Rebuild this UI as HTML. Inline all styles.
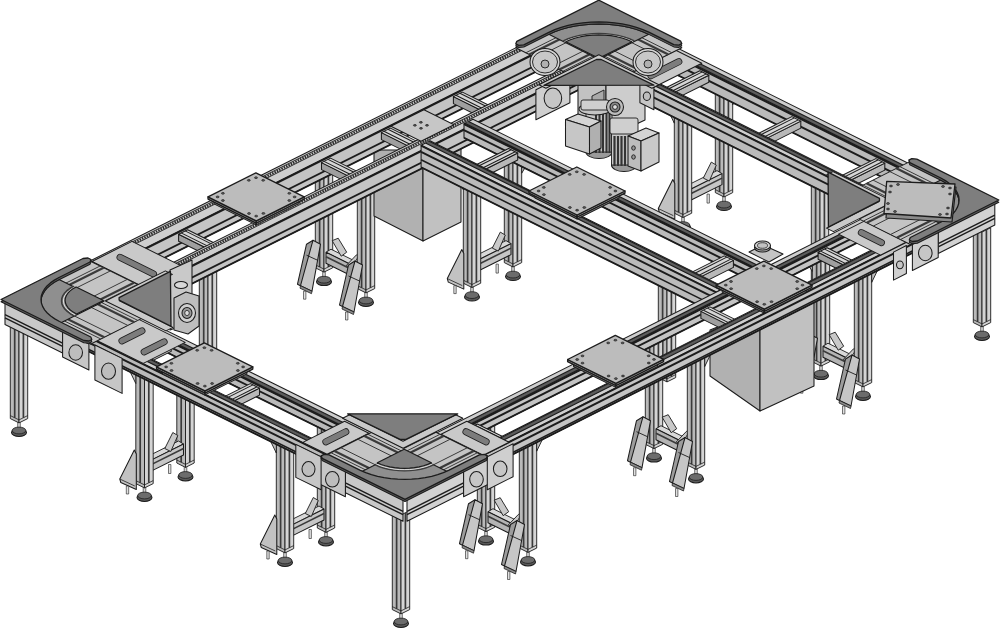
<!DOCTYPE html>
<html lang="en"><head><meta charset="utf-8"><title>Conveyor system</title>
<style>html,body{margin:0;padding:0;background:#fff;font-family:"Liberation Sans",sans-serif}svg{display:block}</style></head>
<body>
<svg width="1000" height="633" viewBox="0 0 1000 633" shape-rendering="geometricPrecision" stroke-linejoin="round">
<polygon points="199.3,256.7 208.0,261.1 208.0,375.9 199.3,371.6" fill="#b9b9b9" stroke="#1c1c1c" stroke-width="0.91" />
<polygon points="208.0,261.1 216.7,256.7 216.7,371.6 208.0,375.9" fill="#d4d4d4" stroke="#1c1c1c" stroke-width="0.91" />
<line x1="203.7" y1="258.9" x2="203.7" y2="370.7" stroke="#3a3a3a" stroke-width="1.69"/>
<line x1="212.3" y1="258.9" x2="212.3" y2="370.7" stroke="#3a3a3a" stroke-width="1.69"/>
<line x1="199.3" y1="368.6" x2="208.0" y2="372.9" stroke="#1c1c1c" stroke-width="0.78"/>
<line x1="216.7" y1="368.6" x2="208.0" y2="372.9" stroke="#1c1c1c" stroke-width="0.78"/>
<rect x="322.7" y="270.2" width="2.6" height="8" fill="#d8d8d8" stroke="#1c1c1c" stroke-width="0.6"/>
<ellipse cx="324.0" cy="281.7" rx="7.5" ry="3.9" fill="#5a5a5a" stroke="#1c1c1c" stroke-width="1.04"/>
<ellipse cx="324.0" cy="279.7" rx="6.8" ry="3.4" fill="#6c6c6c" stroke="#1c1c1c" stroke-width="0.78"/>
<polygon points="315.3,154.5 324.0,158.8 324.0,272.1 315.3,267.8" fill="#b9b9b9" stroke="#1c1c1c" stroke-width="0.91" />
<polygon points="324.0,158.8 332.7,154.5 332.7,267.8 324.0,272.1" fill="#d4d4d4" stroke="#1c1c1c" stroke-width="0.91" />
<line x1="319.6" y1="156.7" x2="319.6" y2="267.0" stroke="#3a3a3a" stroke-width="1.69"/>
<line x1="328.4" y1="156.7" x2="328.4" y2="267.0" stroke="#3a3a3a" stroke-width="1.69"/>
<line x1="315.3" y1="264.8" x2="324.0" y2="269.1" stroke="#1c1c1c" stroke-width="0.78"/>
<line x1="332.7" y1="264.8" x2="324.0" y2="269.1" stroke="#1c1c1c" stroke-width="0.78"/>
<polygon points="331.0,249.2 363.3,265.2 358.3,268.2 326.0,252.2" fill="#d9d9d9" stroke="#1c1c1c" stroke-width="0.91" />
<polygon points="326.0,252.2 358.3,268.2 358.3,279.2 326.0,263.2" fill="#b4b4b4" stroke="#1c1c1c" stroke-width="1.04" />
<line x1="326.0" y1="256.7" x2="358.3" y2="272.7" stroke="#3a3a3a" stroke-width="1.56"/>
<polygon points="332.2,240.7 338.2,238.2 346.7,252.2 341.2,256.2" fill="#c9c9c9" stroke="#1c1c1c" stroke-width="0.91" />
<polygon points="356.3,255.0 361.3,252.0 351.3,268.0 346.3,265.5" fill="#c9c9c9" stroke="#1c1c1c" stroke-width="0.91" />
<polygon points="313.0,240.2 306.5,244.2 297.5,284.2 309.0,290.2" fill="#9c9c9c" stroke="#1c1c1c" stroke-width="1.04" />
<polygon points="313.0,240.2 320.5,244.2 312.0,291.2 300.5,285.7" fill="#c6c6c6" stroke="#1c1c1c" stroke-width="1.04" />
<line x1="317.5" y1="260.2" x2="306.5" y2="255.2" stroke="#1c1c1c" stroke-width="0.91"/>
<polygon points="300.5,285.7 312.0,291.2 311.5,293.7 300.0,288.2" fill="#8a8a8a" stroke="#1c1c1c" stroke-width="0.78" />
<rect x="303.5" y="291.2" width="2.4" height="8" fill="#e0e0e0" stroke="#1c1c1c" stroke-width="0.6"/>
<rect x="364.7" y="291.0" width="2.6" height="8" fill="#d8d8d8" stroke="#1c1c1c" stroke-width="0.6"/>
<ellipse cx="366.0" cy="302.5" rx="7.5" ry="3.9" fill="#5a5a5a" stroke="#1c1c1c" stroke-width="1.04"/>
<ellipse cx="366.0" cy="300.5" rx="6.8" ry="3.4" fill="#6c6c6c" stroke="#1c1c1c" stroke-width="0.78"/>
<polygon points="357.3,175.6 366.0,179.9 366.0,292.9 357.3,288.6" fill="#b9b9b9" stroke="#1c1c1c" stroke-width="0.91" />
<polygon points="366.0,179.9 374.7,175.6 374.7,288.6 366.0,292.9" fill="#d4d4d4" stroke="#1c1c1c" stroke-width="0.91" />
<line x1="361.6" y1="177.7" x2="361.6" y2="287.7" stroke="#3a3a3a" stroke-width="1.69"/>
<line x1="370.4" y1="177.7" x2="370.4" y2="287.7" stroke="#3a3a3a" stroke-width="1.69"/>
<line x1="357.3" y1="285.6" x2="366.0" y2="289.9" stroke="#1c1c1c" stroke-width="0.78"/>
<line x1="374.7" y1="285.6" x2="366.0" y2="289.9" stroke="#1c1c1c" stroke-width="0.78"/>
<polygon points="374.7,183.9 382.7,180.4 374.7,196.9" fill="#c0c0c0" stroke="#1c1c1c" stroke-width="0.91" />
<polygon points="315.3,164.8 308.3,168.3 315.3,179.8" fill="#c0c0c0" stroke="#1c1c1c" stroke-width="0.91" />
<polygon points="355.0,261.0 348.5,265.0 339.5,305.0 351.0,311.0" fill="#9c9c9c" stroke="#1c1c1c" stroke-width="1.04" />
<polygon points="355.0,261.0 362.5,265.0 354.0,312.0 342.5,306.5" fill="#c6c6c6" stroke="#1c1c1c" stroke-width="1.04" />
<line x1="359.5" y1="281.0" x2="348.5" y2="276.0" stroke="#1c1c1c" stroke-width="0.91"/>
<polygon points="342.5,306.5 354.0,312.0 353.5,314.5 342.0,309.0" fill="#8a8a8a" stroke="#1c1c1c" stroke-width="0.78" />
<rect x="345.5" y="312.0" width="2.4" height="8" fill="#e0e0e0" stroke="#1c1c1c" stroke-width="0.6"/>
<polygon points="374.0,150.0 423.0,150.0 423.0,241.0 374.0,216.0" fill="#b1b1b1" stroke="#1c1c1c" stroke-width="1.04" />
<polygon points="423.0,150.0 461.0,140.0 461.0,222.0 423.0,241.0" fill="#c1c1c1" stroke="#1c1c1c" stroke-width="1.04" />
<polygon points="81.2,280.5 561.8,39.8 561.8,58.8 81.2,299.5" fill="#c4c4c4" stroke="#1c1c1c" stroke-width="1.04" />
<polygon points="66.0,273.0 546.8,32.3 561.8,39.8 81.2,280.5" fill="#cecece" stroke="#1c1c1c" stroke-width="1.04" />
<polygon points="66.0,273.0 81.2,280.5 81.2,299.5 66.0,292.0" fill="#a8a8a8" stroke="#1c1c1c" stroke-width="1.04" />
<line x1="69.9" y1="274.9" x2="550.6" y2="34.2" stroke="#2a2a2a" stroke-width="2.3" stroke-dasharray="1.5 1.1"/>
<line x1="68.1" y1="274.0" x2="548.9" y2="33.3" stroke="#1c1c1c" stroke-width="0.91"/>
<line x1="71.7" y1="275.8" x2="552.4" y2="35.1" stroke="#1c1c1c" stroke-width="0.91"/>
<line x1="81.2" y1="280.8" x2="561.8" y2="40.1" stroke="#1c1c1c" stroke-width="2.21"/>
<line x1="81.2" y1="293.0" x2="561.8" y2="52.3" stroke="#1c1c1c" stroke-width="1.82"/>
<line x1="81.2" y1="299.5" x2="561.8" y2="58.8" stroke="#1c1c1c" stroke-width="1.82"/>
<polygon points="178.6,234.2 207.8,248.7 207.8,255.7 178.6,241.2" fill="#9f9f9f" stroke="#1c1c1c" stroke-width="1.04" />
<polygon points="207.8,248.7 216.8,244.2 216.8,251.2 207.8,255.7" fill="#b8b8b8" stroke="#1c1c1c" stroke-width="1.04" />
<polygon points="178.6,234.2 187.6,229.7 216.8,244.2 207.8,248.7" fill="#d6d6d6" stroke="#1c1c1c" stroke-width="1.04" />
<line x1="181.1" y1="232.9" x2="210.3" y2="247.4" stroke="#1c1c1c" stroke-width="1.04"/>
<line x1="185.1" y1="230.9" x2="214.3" y2="245.4" stroke="#1c1c1c" stroke-width="1.04"/>
<polygon points="321.5,162.6 350.6,177.1 350.6,184.1 321.5,169.6" fill="#9f9f9f" stroke="#1c1c1c" stroke-width="1.04" />
<polygon points="350.6,177.1 359.6,172.6 359.6,179.6 350.6,184.1" fill="#b8b8b8" stroke="#1c1c1c" stroke-width="1.04" />
<polygon points="321.5,162.6 330.5,158.1 359.6,172.6 350.6,177.1" fill="#d6d6d6" stroke="#1c1c1c" stroke-width="1.04" />
<line x1="324.0" y1="161.4" x2="353.1" y2="175.8" stroke="#1c1c1c" stroke-width="1.04"/>
<line x1="328.0" y1="159.4" x2="357.1" y2="173.8" stroke="#1c1c1c" stroke-width="1.04"/>
<polygon points="381.4,132.6 410.5,147.1 410.5,154.1 381.4,139.6" fill="#9f9f9f" stroke="#1c1c1c" stroke-width="1.04" />
<polygon points="410.5,147.1 419.5,142.6 419.5,149.6 410.5,154.1" fill="#b8b8b8" stroke="#1c1c1c" stroke-width="1.04" />
<polygon points="381.4,132.6 390.4,128.1 419.5,142.6 410.5,147.1" fill="#d6d6d6" stroke="#1c1c1c" stroke-width="1.04" />
<line x1="383.9" y1="131.3" x2="413.0" y2="145.8" stroke="#1c1c1c" stroke-width="1.04"/>
<line x1="387.9" y1="129.3" x2="417.0" y2="143.8" stroke="#1c1c1c" stroke-width="1.04"/>
<polygon points="453.4,96.6 482.5,111.0 482.5,118.0 453.4,103.6" fill="#9f9f9f" stroke="#1c1c1c" stroke-width="1.04" />
<polygon points="482.5,111.0 491.4,106.5 491.4,113.5 482.5,118.0" fill="#b8b8b8" stroke="#1c1c1c" stroke-width="1.04" />
<polygon points="453.4,96.6 462.4,92.1 491.4,106.5 482.5,111.0" fill="#d6d6d6" stroke="#1c1c1c" stroke-width="1.04" />
<line x1="455.9" y1="95.3" x2="485.0" y2="109.8" stroke="#1c1c1c" stroke-width="1.04"/>
<line x1="459.9" y1="93.3" x2="488.9" y2="107.8" stroke="#1c1c1c" stroke-width="1.04"/>
<polygon points="122.0,300.7 602.3,60.0 602.3,78.0 122.0,318.7" fill="#c4c4c4" stroke="#1c1c1c" stroke-width="1.04" />
<polygon points="109.4,294.5 589.8,53.7 602.3,60.0 122.0,300.7" fill="#cecece" stroke="#1c1c1c" stroke-width="1.04" />
<polygon points="109.4,294.5 122.0,300.7 122.0,318.7 109.4,312.5" fill="#a8a8a8" stroke="#1c1c1c" stroke-width="1.04" />
<line x1="113.2" y1="296.3" x2="593.6" y2="55.6" stroke="#2a2a2a" stroke-width="2.3" stroke-dasharray="1.5 1.1"/>
<line x1="111.5" y1="295.5" x2="591.9" y2="54.8" stroke="#1c1c1c" stroke-width="0.91"/>
<line x1="115.1" y1="297.2" x2="595.4" y2="56.5" stroke="#1c1c1c" stroke-width="0.91"/>
<line x1="122.0" y1="301.0" x2="602.3" y2="60.3" stroke="#1c1c1c" stroke-width="2.21"/>
<line x1="122.0" y1="312.6" x2="602.3" y2="71.9" stroke="#1c1c1c" stroke-width="1.82"/>
<line x1="122.0" y1="318.7" x2="602.3" y2="78.0" stroke="#1c1c1c" stroke-width="1.82"/>
<polygon points="390.9,126.3 423.9,109.8 454.0,124.8 421.0,141.3" fill="#c6c6c6" stroke="#1c1c1c" stroke-width="1.04" />
<ellipse cx="414.9" cy="125.3" rx="1.5" ry="0.9" fill="#555" stroke="#1c1c1c" stroke-width="0.65"/>
<ellipse cx="420.9" cy="122.3" rx="1.5" ry="0.9" fill="#555" stroke="#1c1c1c" stroke-width="0.65"/>
<ellipse cx="421.0" cy="128.3" rx="1.5" ry="0.9" fill="#555" stroke="#1c1c1c" stroke-width="0.65"/>
<ellipse cx="427.0" cy="125.3" rx="1.5" ry="0.9" fill="#555" stroke="#1c1c1c" stroke-width="0.65"/>
<polygon points="92.0,261.5 132.0,241.4 187.4,268.9 147.5,288.9" fill="#c9c9c9" stroke="#1c1c1c" stroke-width="1.04" />
<line x1="120.1" y1="257.4" x2="153.4" y2="273.9" stroke="#1c1c1c" stroke-width="7.1" stroke-linecap="round"/>
<line x1="120.1" y1="257.4" x2="153.4" y2="273.9" stroke="#7c7c7c" stroke-width="5.5" stroke-linecap="round"/>
<polygon points="170.0,270.0 192.0,260.0 192.0,322.0 170.0,330.0" fill="#c9c9c9" stroke="#1c1c1c" stroke-width="1.04" />
<polygon points="174.0,298.0 186.0,292.0 199.0,296.0 199.0,326.0 188.0,334.0 174.0,330.0" fill="#bdbdbd" stroke="#1c1c1c" stroke-width="1.04" />
<ellipse cx="187.0" cy="313.0" rx="8.5" ry="9.5" fill="#cfcfcf" stroke="#1c1c1c" stroke-width="1.04"/>
<ellipse cx="187.0" cy="313.0" rx="5.0" ry="5.5" fill="#9a9a9a" stroke="#1c1c1c" stroke-width="1.04"/>
<ellipse cx="187.0" cy="313.0" rx="2.3" ry="2.6" fill="#dddddd" stroke="#1c1c1c" stroke-width="0.78"/>
<ellipse cx="181.0" cy="285.0" rx="6.5" ry="3.6" fill="#d8d8d8" stroke="#1c1c1c" stroke-width="1.04"/>
<rect x="722.7" y="195.1" width="2.6" height="8" fill="#d8d8d8" stroke="#1c1c1c" stroke-width="0.6"/>
<ellipse cx="724.0" cy="206.6" rx="7.5" ry="3.9" fill="#5a5a5a" stroke="#1c1c1c" stroke-width="1.04"/>
<ellipse cx="724.0" cy="204.6" rx="6.8" ry="3.4" fill="#6c6c6c" stroke="#1c1c1c" stroke-width="0.78"/>
<polygon points="715.3,79.4 724.0,83.8 724.0,197.0 715.3,192.6" fill="#b9b9b9" stroke="#1c1c1c" stroke-width="0.91" />
<polygon points="724.0,83.8 732.7,79.4 732.7,192.6 724.0,197.0" fill="#d4d4d4" stroke="#1c1c1c" stroke-width="0.91" />
<line x1="719.6" y1="81.6" x2="719.6" y2="191.8" stroke="#3a3a3a" stroke-width="1.69"/>
<line x1="728.4" y1="81.6" x2="728.4" y2="191.8" stroke="#3a3a3a" stroke-width="1.69"/>
<line x1="715.3" y1="189.6" x2="724.0" y2="194.0" stroke="#1c1c1c" stroke-width="0.78"/>
<line x1="732.7" y1="189.6" x2="724.0" y2="194.0" stroke="#1c1c1c" stroke-width="0.78"/>
<rect x="707.0" y="194.1" width="2.4" height="9" fill="#e0e0e0" stroke="#1c1c1c" stroke-width="0.6"/>
<polygon points="685.7,186.2 717.0,170.6 722.0,173.6 690.7,189.2" fill="#d9d9d9" stroke="#1c1c1c" stroke-width="0.91" />
<polygon points="690.7,189.2 722.0,173.6 722.0,184.6 690.7,200.2" fill="#c6c6c6" stroke="#1c1c1c" stroke-width="1.04" />
<line x1="690.7" y1="193.7" x2="722.0" y2="178.1" stroke="#3a3a3a" stroke-width="1.56"/>
<polygon points="716.3,165.1 711.3,162.1 703.3,178.1 709.3,181.1" fill="#c9c9c9" stroke="#1c1c1c" stroke-width="0.91" />
<rect x="681.7" y="215.6" width="2.6" height="8" fill="#d8d8d8" stroke="#1c1c1c" stroke-width="0.6"/>
<ellipse cx="683.0" cy="227.1" rx="7.5" ry="3.9" fill="#5a5a5a" stroke="#1c1c1c" stroke-width="1.04"/>
<ellipse cx="683.0" cy="225.1" rx="6.8" ry="3.4" fill="#6c6c6c" stroke="#1c1c1c" stroke-width="0.78"/>
<polygon points="674.3,101.9 683.0,106.2 683.0,217.5 674.3,213.2" fill="#b9b9b9" stroke="#1c1c1c" stroke-width="0.91" />
<polygon points="683.0,106.2 691.7,101.9 691.7,213.2 683.0,217.5" fill="#d4d4d4" stroke="#1c1c1c" stroke-width="0.91" />
<line x1="678.6" y1="104.1" x2="678.6" y2="212.3" stroke="#3a3a3a" stroke-width="1.69"/>
<line x1="687.4" y1="104.1" x2="687.4" y2="212.3" stroke="#3a3a3a" stroke-width="1.69"/>
<line x1="674.3" y1="210.2" x2="683.0" y2="214.5" stroke="#1c1c1c" stroke-width="0.78"/>
<line x1="691.7" y1="210.2" x2="683.0" y2="214.5" stroke="#1c1c1c" stroke-width="0.78"/>
<polygon points="674.3,110.2 666.3,106.7 674.3,123.2" fill="#c0c0c0" stroke="#1c1c1c" stroke-width="0.91" />
<polygon points="732.7,89.8 739.7,93.3 732.7,104.8" fill="#c0c0c0" stroke="#1c1c1c" stroke-width="0.91" />
<polygon points="672.8,179.6 658.3,208.6 659.3,212.1 674.8,219.1 674.8,183.6" fill="#c2c2c2" stroke="#1c1c1c" stroke-width="1.04" />
<line x1="658.3" y1="208.6" x2="673.3" y2="215.6" stroke="#1c1c1c" stroke-width="0.78"/>
<rect x="664.8" y="215.6" width="2.4" height="8" fill="#e0e0e0" stroke="#1c1c1c" stroke-width="0.6"/>
<polygon points="811.3,172.2 820.0,176.6 820.0,293.9 811.3,289.6" fill="#b9b9b9" stroke="#1c1c1c" stroke-width="0.91" />
<polygon points="820.0,176.6 828.7,172.2 828.7,289.6 820.0,293.9" fill="#d4d4d4" stroke="#1c1c1c" stroke-width="0.91" />
<line x1="815.6" y1="174.4" x2="815.6" y2="288.7" stroke="#3a3a3a" stroke-width="1.69"/>
<line x1="824.4" y1="174.4" x2="824.4" y2="288.7" stroke="#3a3a3a" stroke-width="1.69"/>
<line x1="811.3" y1="286.6" x2="820.0" y2="290.9" stroke="#1c1c1c" stroke-width="0.78"/>
<line x1="828.7" y1="286.6" x2="820.0" y2="290.9" stroke="#1c1c1c" stroke-width="0.78"/>
<polygon points="639.3,38.0 925.4,180.8 925.4,198.8 639.3,56.0" fill="#bababa" stroke="#1c1c1c" stroke-width="1.04" />
<polygon points="639.3,38.0 648.3,33.5 934.3,176.3 925.4,180.8" fill="#cecece" stroke="#1c1c1c" stroke-width="1.04" />
<polygon points="925.4,180.8 934.3,176.3 934.3,194.3 925.4,198.8" fill="#c4c4c4" stroke="#1c1c1c" stroke-width="1.04" />
<polygon points="640.2,37.5 926.2,180.3 929.9,178.5 643.9,35.7" fill="#5c5c5c" stroke="none" stroke-width="1.04" />
<line x1="640.2" y1="37.5" x2="926.2" y2="180.3" stroke="#1c1c1c" stroke-width="1.17"/>
<line x1="643.9" y1="35.7" x2="929.9" y2="178.5" stroke="#1c1c1c" stroke-width="1.17"/>
<line x1="639.3" y1="38.3" x2="925.4" y2="181.1" stroke="#1c1c1c" stroke-width="1.95"/>
<line x1="639.3" y1="46.1" x2="925.4" y2="188.9" stroke="#1c1c1c" stroke-width="1.95"/>
<line x1="639.3" y1="56.0" x2="925.4" y2="198.8" stroke="#1c1c1c" stroke-width="1.82"/>
<polygon points="663.4,89.0 672.4,93.4 672.4,100.4 663.4,96.0" fill="#9f9f9f" stroke="#1c1c1c" stroke-width="1.04" />
<polygon points="672.4,93.4 708.8,75.2 708.8,82.2 672.4,100.4" fill="#b8b8b8" stroke="#1c1c1c" stroke-width="1.04" />
<polygon points="663.4,89.0 699.8,70.7 708.8,75.2 672.4,93.4" fill="#d6d6d6" stroke="#1c1c1c" stroke-width="1.04" />
<line x1="665.9" y1="90.2" x2="702.3" y2="71.9" stroke="#1c1c1c" stroke-width="1.04"/>
<line x1="669.9" y1="92.2" x2="706.3" y2="73.9" stroke="#1c1c1c" stroke-width="1.04"/>
<polygon points="755.5,134.9 764.5,139.4 764.5,146.4 755.5,141.9" fill="#9f9f9f" stroke="#1c1c1c" stroke-width="1.04" />
<polygon points="764.5,139.4 800.8,121.1 800.8,128.1 764.5,146.4" fill="#b8b8b8" stroke="#1c1c1c" stroke-width="1.04" />
<polygon points="755.5,134.9 791.8,116.6 800.8,121.1 764.5,139.4" fill="#d6d6d6" stroke="#1c1c1c" stroke-width="1.04" />
<line x1="758.0" y1="136.1" x2="794.3" y2="117.9" stroke="#1c1c1c" stroke-width="1.04"/>
<line x1="762.0" y1="138.1" x2="798.3" y2="119.9" stroke="#1c1c1c" stroke-width="1.04"/>
<polygon points="839.5,176.8 848.5,181.3 848.5,188.3 839.5,183.8" fill="#9f9f9f" stroke="#1c1c1c" stroke-width="1.04" />
<polygon points="848.5,181.3 884.8,163.1 884.8,170.1 848.5,188.3" fill="#b8b8b8" stroke="#1c1c1c" stroke-width="1.04" />
<polygon points="839.5,176.8 875.8,158.6 884.8,163.1 848.5,181.3" fill="#d6d6d6" stroke="#1c1c1c" stroke-width="1.04" />
<line x1="842.0" y1="178.1" x2="878.3" y2="159.8" stroke="#1c1c1c" stroke-width="1.04"/>
<line x1="846.0" y1="180.1" x2="882.3" y2="161.8" stroke="#1c1c1c" stroke-width="1.04"/>
<polygon points="594.8,60.2 881.1,203.1 881.1,220.6 594.8,77.7" fill="#bababa" stroke="#1c1c1c" stroke-width="1.04" />
<polygon points="594.8,60.2 603.8,55.7 890.1,198.6 881.1,203.1" fill="#cecece" stroke="#1c1c1c" stroke-width="1.04" />
<polygon points="881.1,203.1 890.1,198.6 890.1,216.1 881.1,220.6" fill="#c4c4c4" stroke="#1c1c1c" stroke-width="1.04" />
<polygon points="599.2,58.0 885.5,200.9 889.2,199.0 602.9,56.2" fill="#5c5c5c" stroke="none" stroke-width="1.04" />
<line x1="599.2" y1="58.0" x2="885.5" y2="200.9" stroke="#1c1c1c" stroke-width="1.17"/>
<line x1="602.9" y1="56.2" x2="889.2" y2="199.0" stroke="#1c1c1c" stroke-width="1.17"/>
<line x1="594.8" y1="60.5" x2="881.1" y2="203.4" stroke="#1c1c1c" stroke-width="1.95"/>
<line x1="594.8" y1="68.1" x2="881.1" y2="210.9" stroke="#1c1c1c" stroke-width="1.95"/>
<line x1="594.8" y1="77.7" x2="881.1" y2="220.6" stroke="#1c1c1c" stroke-width="1.82"/>
<polygon points="625.9,75.2 675.8,50.2 701.8,63.2 651.9,88.2" fill="#c9c9c9" stroke="#1c1c1c" stroke-width="1.04" />
<line x1="650.9" y1="75.7" x2="678.8" y2="61.7" stroke="#1c1c1c" stroke-width="7.1" stroke-linecap="round"/>
<line x1="650.9" y1="75.7" x2="678.8" y2="61.7" stroke="#7c7c7c" stroke-width="5.5" stroke-linecap="round"/>
<polygon points="578.0,84.0 606.0,84.0 606.0,120.0 578.0,116.0" fill="#c2c2c2" stroke="#1c1c1c" stroke-width="1.04" />
<polygon points="606.0,84.0 645.0,84.0 645.0,120.0 628.0,128.0 606.0,122.0" fill="#cdcdcd" stroke="#1c1c1c" stroke-width="1.04" />
<polygon points="592.0,96.0 604.0,90.0 604.0,118.0 592.0,114.0" fill="#a9a9a9" stroke="#1c1c1c" stroke-width="0.91" />
<ellipse cx="599.0" cy="152.0" rx="13.0" ry="6.5" fill="#9a9a9a" stroke="#1c1c1c" stroke-width="1.04"/>
<rect x="586.0" y="108.0" width="26.0" height="44.0" rx="0" fill="#c9c9c9" stroke="#1c1c1c" stroke-width="0.9"/>
<line x1="596.0" y1="112.0" x2="596.0" y2="153.0" stroke="#333" stroke-width="2.08"/>
<line x1="599.5" y1="112.0" x2="599.5" y2="153.0" stroke="#333" stroke-width="2.08"/>
<line x1="603.0" y1="112.0" x2="603.0" y2="153.0" stroke="#333" stroke-width="2.08"/>
<line x1="606.5" y1="112.0" x2="606.5" y2="153.0" stroke="#333" stroke-width="2.08"/>
<line x1="609.5" y1="112.0" x2="609.5" y2="153.0" stroke="#333" stroke-width="2.08"/>
<ellipse cx="595.0" cy="109.0" rx="16.0" ry="6.0" fill="#c4c4c4" stroke="#1c1c1c" stroke-width="1.04"/>
<rect x="581.0" y="100.0" width="28.0" height="10.0" rx="2" fill="#cfcfcf" stroke="#1c1c1c" stroke-width="0.9"/>
<polygon points="565.5,119.5 578.0,114.0 601.0,121.0 589.5,127.0" fill="#d4d4d4" stroke="#1c1c1c" stroke-width="1.04" />
<polygon points="565.5,119.5 589.5,127.0 589.5,154.0 565.5,146.0" fill="#c6c6c6" stroke="#1c1c1c" stroke-width="1.04" />
<polygon points="589.5,127.0 601.0,121.0 601.0,148.0 589.5,154.0" fill="#b0b0b0" stroke="#1c1c1c" stroke-width="1.04" />
<ellipse cx="624.0" cy="165.0" rx="12.5" ry="6.5" fill="#9a9a9a" stroke="#1c1c1c" stroke-width="1.04"/>
<rect x="611.5" y="126.0" width="25.0" height="39.0" rx="0" fill="#c9c9c9" stroke="#1c1c1c" stroke-width="0.9"/>
<line x1="614.5" y1="136.0" x2="614.5" y2="166.0" stroke="#333" stroke-width="2.21"/>
<line x1="618.0" y1="136.0" x2="618.0" y2="166.0" stroke="#333" stroke-width="2.21"/>
<line x1="621.5" y1="136.0" x2="621.5" y2="166.0" stroke="#333" stroke-width="2.21"/>
<line x1="625.0" y1="136.0" x2="625.0" y2="166.0" stroke="#333" stroke-width="2.21"/>
<rect x="610.0" y="118.0" width="28.0" height="16.0" rx="2" fill="#cfcfcf" stroke="#1c1c1c" stroke-width="0.9"/>
<polygon points="628.0,136.0 646.0,128.0 659.0,133.0 641.0,141.0" fill="#d4d4d4" stroke="#1c1c1c" stroke-width="1.04" />
<polygon points="628.0,136.0 641.0,141.0 641.0,171.0 628.0,166.0" fill="#bdbdbd" stroke="#1c1c1c" stroke-width="1.04" />
<polygon points="641.0,141.0 659.0,133.0 659.0,162.0 641.0,171.0" fill="#c9c9c9" stroke="#1c1c1c" stroke-width="1.04" />
<ellipse cx="633.5" cy="148.0" rx="1.8" ry="2.2" fill="#999" stroke="#1c1c1c" stroke-width="0.91"/>
<ellipse cx="633.5" cy="157.0" rx="1.8" ry="2.2" fill="#999" stroke="#1c1c1c" stroke-width="0.91"/>
<ellipse cx="615.0" cy="107.0" rx="8.5" ry="8.5" fill="#bdbdbd" stroke="#1c1c1c" stroke-width="1.04"/>
<ellipse cx="615.0" cy="107.0" rx="5.0" ry="5.0" fill="#8a8a8a" stroke="#1c1c1c" stroke-width="1.04"/>
<ellipse cx="615.0" cy="107.0" rx="2.4" ry="2.4" fill="#e0e0e0" stroke="#1c1c1c" stroke-width="0.91"/>
<rect x="511.7" y="265.1" width="2.6" height="8" fill="#d8d8d8" stroke="#1c1c1c" stroke-width="0.6"/>
<ellipse cx="513.0" cy="276.6" rx="7.5" ry="3.9" fill="#5a5a5a" stroke="#1c1c1c" stroke-width="1.04"/>
<ellipse cx="513.0" cy="274.6" rx="6.8" ry="3.4" fill="#6c6c6c" stroke="#1c1c1c" stroke-width="0.78"/>
<polygon points="504.3,147.8 513.0,152.2 513.0,267.0 504.3,262.6" fill="#b9b9b9" stroke="#1c1c1c" stroke-width="0.91" />
<polygon points="513.0,152.2 521.7,147.8 521.7,262.6 513.0,267.0" fill="#d4d4d4" stroke="#1c1c1c" stroke-width="0.91" />
<line x1="508.6" y1="150.0" x2="508.6" y2="261.8" stroke="#3a3a3a" stroke-width="1.69"/>
<line x1="517.4" y1="150.0" x2="517.4" y2="261.8" stroke="#3a3a3a" stroke-width="1.69"/>
<line x1="504.3" y1="259.6" x2="513.0" y2="264.0" stroke="#1c1c1c" stroke-width="0.78"/>
<line x1="521.7" y1="259.6" x2="513.0" y2="264.0" stroke="#1c1c1c" stroke-width="0.78"/>
<rect x="496.0" y="264.1" width="2.4" height="9" fill="#e0e0e0" stroke="#1c1c1c" stroke-width="0.6"/>
<polygon points="474.7,256.2 506.0,240.6 511.0,243.6 479.7,259.2" fill="#d9d9d9" stroke="#1c1c1c" stroke-width="0.91" />
<polygon points="479.7,259.2 511.0,243.6 511.0,254.6 479.7,270.2" fill="#c6c6c6" stroke="#1c1c1c" stroke-width="1.04" />
<line x1="479.7" y1="263.7" x2="511.0" y2="248.1" stroke="#3a3a3a" stroke-width="1.56"/>
<polygon points="505.3,235.1 500.3,232.1 492.3,248.1 498.3,251.1" fill="#c9c9c9" stroke="#1c1c1c" stroke-width="0.91" />
<rect x="470.7" y="285.6" width="2.6" height="8" fill="#d8d8d8" stroke="#1c1c1c" stroke-width="0.6"/>
<ellipse cx="472.0" cy="297.1" rx="7.5" ry="3.9" fill="#5a5a5a" stroke="#1c1c1c" stroke-width="1.04"/>
<ellipse cx="472.0" cy="295.1" rx="6.8" ry="3.4" fill="#6c6c6c" stroke="#1c1c1c" stroke-width="0.78"/>
<polygon points="463.3,168.3 472.0,172.7 472.0,287.5 463.3,283.2" fill="#b9b9b9" stroke="#1c1c1c" stroke-width="0.91" />
<polygon points="472.0,172.7 480.7,168.3 480.7,283.2 472.0,287.5" fill="#d4d4d4" stroke="#1c1c1c" stroke-width="0.91" />
<line x1="467.6" y1="170.5" x2="467.6" y2="282.3" stroke="#3a3a3a" stroke-width="1.69"/>
<line x1="476.4" y1="170.5" x2="476.4" y2="282.3" stroke="#3a3a3a" stroke-width="1.69"/>
<line x1="463.3" y1="280.2" x2="472.0" y2="284.5" stroke="#1c1c1c" stroke-width="0.78"/>
<line x1="480.7" y1="280.2" x2="472.0" y2="284.5" stroke="#1c1c1c" stroke-width="0.78"/>
<polygon points="463.3,176.7 455.3,173.2 463.3,189.7" fill="#c0c0c0" stroke="#1c1c1c" stroke-width="0.91" />
<polygon points="521.7,158.2 528.7,161.7 521.7,173.2" fill="#c0c0c0" stroke="#1c1c1c" stroke-width="0.91" />
<polygon points="461.8,249.6 447.3,278.6 448.3,282.1 463.8,289.1 463.8,253.6" fill="#c2c2c2" stroke="#1c1c1c" stroke-width="1.04" />
<line x1="447.3" y1="278.6" x2="462.3" y2="285.6" stroke="#1c1c1c" stroke-width="0.78"/>
<rect x="453.8" y="285.6" width="2.4" height="8" fill="#e0e0e0" stroke="#1c1c1c" stroke-width="0.6"/>
<polygon points="658.3,267.3 667.0,271.7 667.0,381.9 658.3,377.6" fill="#b9b9b9" stroke="#1c1c1c" stroke-width="0.91" />
<polygon points="667.0,271.7 675.7,267.3 675.7,377.6 667.0,381.9" fill="#d4d4d4" stroke="#1c1c1c" stroke-width="0.91" />
<line x1="662.6" y1="269.5" x2="662.6" y2="376.7" stroke="#3a3a3a" stroke-width="1.69"/>
<line x1="671.4" y1="269.5" x2="671.4" y2="376.7" stroke="#3a3a3a" stroke-width="1.69"/>
<line x1="658.3" y1="374.6" x2="667.0" y2="378.9" stroke="#1c1c1c" stroke-width="0.78"/>
<line x1="675.7" y1="374.6" x2="667.0" y2="378.9" stroke="#1c1c1c" stroke-width="0.78"/>
<polygon points="464.0,123.8 758.9,270.6 758.9,284.6 464.0,137.8" fill="#bababa" stroke="#1c1c1c" stroke-width="1.04" />
<polygon points="464.0,123.8 473.0,119.3 767.9,266.1 758.9,270.6" fill="#cecece" stroke="#1c1c1c" stroke-width="1.04" />
<polygon points="758.9,270.6 767.9,266.1 767.9,280.1 758.9,284.6" fill="#c4c4c4" stroke="#1c1c1c" stroke-width="1.04" />
<polygon points="464.9,123.3 759.8,270.2 763.5,268.3 468.6,121.5" fill="#5c5c5c" stroke="none" stroke-width="1.04" />
<line x1="464.9" y1="123.3" x2="759.8" y2="270.2" stroke="#1c1c1c" stroke-width="1.17"/>
<line x1="468.6" y1="121.5" x2="763.5" y2="268.3" stroke="#1c1c1c" stroke-width="1.17"/>
<line x1="464.0" y1="124.1" x2="758.9" y2="270.9" stroke="#1c1c1c" stroke-width="1.95"/>
<line x1="464.0" y1="130.1" x2="758.9" y2="276.9" stroke="#1c1c1c" stroke-width="1.95"/>
<line x1="464.0" y1="137.8" x2="758.9" y2="284.6" stroke="#1c1c1c" stroke-width="1.82"/>
<polygon points="473.7,166.0 482.8,170.5 482.8,177.5 473.7,173.0" fill="#9f9f9f" stroke="#1c1c1c" stroke-width="1.04" />
<polygon points="482.8,170.5 517.7,153.0 517.7,160.0 482.8,177.5" fill="#b8b8b8" stroke="#1c1c1c" stroke-width="1.04" />
<polygon points="473.7,166.0 508.6,148.5 517.7,153.0 482.8,170.5" fill="#d6d6d6" stroke="#1c1c1c" stroke-width="1.04" />
<line x1="476.2" y1="167.3" x2="511.2" y2="149.8" stroke="#1c1c1c" stroke-width="1.04"/>
<line x1="480.2" y1="169.3" x2="515.2" y2="151.8" stroke="#1c1c1c" stroke-width="1.04"/>
<polygon points="689.5,273.4 698.6,277.9 698.6,284.9 689.5,280.4" fill="#9f9f9f" stroke="#1c1c1c" stroke-width="1.04" />
<polygon points="698.6,277.9 733.4,260.4 733.4,267.4 698.6,284.9" fill="#b8b8b8" stroke="#1c1c1c" stroke-width="1.04" />
<polygon points="689.5,273.4 724.3,255.9 733.4,260.4 698.6,277.9" fill="#d6d6d6" stroke="#1c1c1c" stroke-width="1.04" />
<line x1="692.0" y1="274.7" x2="726.8" y2="257.1" stroke="#1c1c1c" stroke-width="1.04"/>
<line x1="696.1" y1="276.7" x2="730.8" y2="259.1" stroke="#1c1c1c" stroke-width="1.04"/>
<polygon points="421.1,145.3 716.2,292.1 716.2,314.1 421.1,167.3" fill="#bababa" stroke="#1c1c1c" stroke-width="1.04" />
<polygon points="421.1,145.3 430.0,140.8 725.2,287.6 716.2,292.1" fill="#cecece" stroke="#1c1c1c" stroke-width="1.04" />
<polygon points="716.2,292.1 725.2,287.6 725.2,309.6 716.2,314.1" fill="#c4c4c4" stroke="#1c1c1c" stroke-width="1.04" />
<polygon points="425.5,143.1 720.6,289.9 724.3,288.1 429.2,141.3" fill="#5c5c5c" stroke="none" stroke-width="1.04" />
<line x1="425.5" y1="143.1" x2="720.6" y2="289.9" stroke="#1c1c1c" stroke-width="1.17"/>
<line x1="429.2" y1="141.3" x2="724.3" y2="288.1" stroke="#1c1c1c" stroke-width="1.17"/>
<line x1="421.1" y1="145.6" x2="716.2" y2="292.4" stroke="#1c1c1c" stroke-width="1.95"/>
<line x1="421.1" y1="151.8" x2="716.2" y2="298.7" stroke="#1c1c1c" stroke-width="1.95"/>
<line x1="421.1" y1="167.3" x2="716.2" y2="314.1" stroke="#1c1c1c" stroke-width="1.82"/>
<line x1="421.1" y1="159.8" x2="716.2" y2="306.6" stroke="#1c1c1c" stroke-width="1.56"/>
<rect x="484.7" y="529.7" width="2.6" height="8" fill="#d8d8d8" stroke="#1c1c1c" stroke-width="0.6"/>
<ellipse cx="486.0" cy="541.2" rx="7.5" ry="3.9" fill="#5a5a5a" stroke="#1c1c1c" stroke-width="1.04"/>
<ellipse cx="486.0" cy="539.2" rx="6.8" ry="3.4" fill="#6c6c6c" stroke="#1c1c1c" stroke-width="0.78"/>
<polygon points="477.3,414.8 486.0,419.1 486.0,531.6 477.3,527.3" fill="#b9b9b9" stroke="#1c1c1c" stroke-width="0.91" />
<polygon points="486.0,419.1 494.7,414.8 494.7,527.3 486.0,531.6" fill="#d4d4d4" stroke="#1c1c1c" stroke-width="0.91" />
<line x1="481.6" y1="416.9" x2="481.6" y2="526.5" stroke="#3a3a3a" stroke-width="1.69"/>
<line x1="490.4" y1="416.9" x2="490.4" y2="526.5" stroke="#3a3a3a" stroke-width="1.69"/>
<line x1="477.3" y1="524.3" x2="486.0" y2="528.6" stroke="#1c1c1c" stroke-width="0.78"/>
<line x1="494.7" y1="524.3" x2="486.0" y2="528.6" stroke="#1c1c1c" stroke-width="0.78"/>
<polygon points="493.0,508.7 525.3,524.7 520.3,527.7 488.0,511.7" fill="#d9d9d9" stroke="#1c1c1c" stroke-width="0.91" />
<polygon points="488.0,511.7 520.3,527.7 520.3,538.7 488.0,522.7" fill="#b4b4b4" stroke="#1c1c1c" stroke-width="1.04" />
<line x1="488.0" y1="516.2" x2="520.3" y2="532.2" stroke="#3a3a3a" stroke-width="1.56"/>
<polygon points="494.2,500.2 500.2,497.7 508.7,511.7 503.2,515.7" fill="#c9c9c9" stroke="#1c1c1c" stroke-width="0.91" />
<polygon points="518.3,514.5 523.3,511.5 513.3,527.5 508.3,525.0" fill="#c9c9c9" stroke="#1c1c1c" stroke-width="0.91" />
<polygon points="475.0,499.7 468.5,503.7 459.5,543.7 471.0,549.7" fill="#9c9c9c" stroke="#1c1c1c" stroke-width="1.04" />
<polygon points="475.0,499.7 482.5,503.7 474.0,550.7 462.5,545.2" fill="#c6c6c6" stroke="#1c1c1c" stroke-width="1.04" />
<line x1="479.5" y1="519.7" x2="468.5" y2="514.7" stroke="#1c1c1c" stroke-width="0.91"/>
<polygon points="462.5,545.2 474.0,550.7 473.5,553.2 462.0,547.7" fill="#8a8a8a" stroke="#1c1c1c" stroke-width="0.78" />
<rect x="465.5" y="550.7" width="2.4" height="8" fill="#e0e0e0" stroke="#1c1c1c" stroke-width="0.6"/>
<rect x="526.7" y="550.5" width="2.6" height="8" fill="#d8d8d8" stroke="#1c1c1c" stroke-width="0.6"/>
<ellipse cx="528.0" cy="562.0" rx="7.5" ry="3.9" fill="#5a5a5a" stroke="#1c1c1c" stroke-width="1.04"/>
<ellipse cx="528.0" cy="560.0" rx="6.8" ry="3.4" fill="#6c6c6c" stroke="#1c1c1c" stroke-width="0.78"/>
<polygon points="519.3,429.9 528.0,434.2 528.0,552.4 519.3,548.1" fill="#b9b9b9" stroke="#1c1c1c" stroke-width="0.91" />
<polygon points="528.0,434.2 536.7,429.9 536.7,548.1 528.0,552.4" fill="#d4d4d4" stroke="#1c1c1c" stroke-width="0.91" />
<line x1="523.6" y1="432.0" x2="523.6" y2="547.2" stroke="#3a3a3a" stroke-width="1.69"/>
<line x1="532.4" y1="432.0" x2="532.4" y2="547.2" stroke="#3a3a3a" stroke-width="1.69"/>
<line x1="519.3" y1="545.1" x2="528.0" y2="549.4" stroke="#1c1c1c" stroke-width="0.78"/>
<line x1="536.7" y1="545.1" x2="528.0" y2="549.4" stroke="#1c1c1c" stroke-width="0.78"/>
<polygon points="536.7,438.2 544.7,434.7 536.7,451.2" fill="#c0c0c0" stroke="#1c1c1c" stroke-width="0.91" />
<polygon points="477.3,425.1 470.3,428.6 477.3,440.1" fill="#c0c0c0" stroke="#1c1c1c" stroke-width="0.91" />
<polygon points="517.0,520.5 510.5,524.5 501.5,564.5 513.0,570.5" fill="#9c9c9c" stroke="#1c1c1c" stroke-width="1.04" />
<polygon points="517.0,520.5 524.5,524.5 516.0,571.5 504.5,566.0" fill="#c6c6c6" stroke="#1c1c1c" stroke-width="1.04" />
<line x1="521.5" y1="540.5" x2="510.5" y2="535.5" stroke="#1c1c1c" stroke-width="0.91"/>
<polygon points="504.5,566.0 516.0,571.5 515.5,574.0 504.0,568.5" fill="#8a8a8a" stroke="#1c1c1c" stroke-width="0.78" />
<rect x="507.5" y="571.5" width="2.4" height="8" fill="#e0e0e0" stroke="#1c1c1c" stroke-width="0.6"/>
<rect x="652.7" y="446.7" width="2.6" height="8" fill="#d8d8d8" stroke="#1c1c1c" stroke-width="0.6"/>
<ellipse cx="654.0" cy="458.2" rx="7.5" ry="3.9" fill="#5a5a5a" stroke="#1c1c1c" stroke-width="1.04"/>
<ellipse cx="654.0" cy="456.2" rx="6.8" ry="3.4" fill="#6c6c6c" stroke="#1c1c1c" stroke-width="0.78"/>
<polygon points="645.3,330.2 654.0,334.5 654.0,448.6 645.3,444.3" fill="#b9b9b9" stroke="#1c1c1c" stroke-width="0.91" />
<polygon points="654.0,334.5 662.7,330.2 662.7,444.3 654.0,448.6" fill="#d4d4d4" stroke="#1c1c1c" stroke-width="0.91" />
<line x1="649.6" y1="332.3" x2="649.6" y2="443.5" stroke="#3a3a3a" stroke-width="1.69"/>
<line x1="658.4" y1="332.3" x2="658.4" y2="443.5" stroke="#3a3a3a" stroke-width="1.69"/>
<line x1="645.3" y1="441.3" x2="654.0" y2="445.6" stroke="#1c1c1c" stroke-width="0.78"/>
<line x1="662.7" y1="441.3" x2="654.0" y2="445.6" stroke="#1c1c1c" stroke-width="0.78"/>
<polygon points="661.0,425.7 693.3,441.7 688.3,444.7 656.0,428.7" fill="#d9d9d9" stroke="#1c1c1c" stroke-width="0.91" />
<polygon points="656.0,428.7 688.3,444.7 688.3,455.7 656.0,439.7" fill="#b4b4b4" stroke="#1c1c1c" stroke-width="1.04" />
<line x1="656.0" y1="433.2" x2="688.3" y2="449.2" stroke="#3a3a3a" stroke-width="1.56"/>
<polygon points="662.2,417.2 668.2,414.7 676.7,428.7 671.2,432.7" fill="#c9c9c9" stroke="#1c1c1c" stroke-width="0.91" />
<polygon points="686.3,431.5 691.3,428.5 681.3,444.5 676.3,442.0" fill="#c9c9c9" stroke="#1c1c1c" stroke-width="0.91" />
<polygon points="643.0,416.7 636.5,420.7 627.5,460.7 639.0,466.7" fill="#9c9c9c" stroke="#1c1c1c" stroke-width="1.04" />
<polygon points="643.0,416.7 650.5,420.7 642.0,467.7 630.5,462.2" fill="#c6c6c6" stroke="#1c1c1c" stroke-width="1.04" />
<line x1="647.5" y1="436.7" x2="636.5" y2="431.7" stroke="#1c1c1c" stroke-width="0.91"/>
<polygon points="630.5,462.2 642.0,467.7 641.5,470.2 630.0,464.7" fill="#8a8a8a" stroke="#1c1c1c" stroke-width="0.78" />
<rect x="633.5" y="467.7" width="2.4" height="8" fill="#e0e0e0" stroke="#1c1c1c" stroke-width="0.6"/>
<rect x="694.7" y="467.5" width="2.6" height="8" fill="#d8d8d8" stroke="#1c1c1c" stroke-width="0.6"/>
<ellipse cx="696.0" cy="479.0" rx="7.5" ry="3.9" fill="#5a5a5a" stroke="#1c1c1c" stroke-width="1.04"/>
<ellipse cx="696.0" cy="477.0" rx="6.8" ry="3.4" fill="#6c6c6c" stroke="#1c1c1c" stroke-width="0.78"/>
<polygon points="687.3,345.2 696.0,349.6 696.0,469.4 687.3,465.1" fill="#b9b9b9" stroke="#1c1c1c" stroke-width="0.91" />
<polygon points="696.0,349.6 704.7,345.2 704.7,465.1 696.0,469.4" fill="#d4d4d4" stroke="#1c1c1c" stroke-width="0.91" />
<line x1="691.6" y1="347.4" x2="691.6" y2="464.2" stroke="#3a3a3a" stroke-width="1.69"/>
<line x1="700.4" y1="347.4" x2="700.4" y2="464.2" stroke="#3a3a3a" stroke-width="1.69"/>
<line x1="687.3" y1="462.1" x2="696.0" y2="466.4" stroke="#1c1c1c" stroke-width="0.78"/>
<line x1="704.7" y1="462.1" x2="696.0" y2="466.4" stroke="#1c1c1c" stroke-width="0.78"/>
<polygon points="704.7,353.6 712.7,350.1 704.7,366.6" fill="#c0c0c0" stroke="#1c1c1c" stroke-width="0.91" />
<polygon points="645.3,340.5 638.3,344.0 645.3,355.5" fill="#c0c0c0" stroke="#1c1c1c" stroke-width="0.91" />
<polygon points="685.0,437.5 678.5,441.5 669.5,481.5 681.0,487.5" fill="#9c9c9c" stroke="#1c1c1c" stroke-width="1.04" />
<polygon points="685.0,437.5 692.5,441.5 684.0,488.5 672.5,483.0" fill="#c6c6c6" stroke="#1c1c1c" stroke-width="1.04" />
<line x1="689.5" y1="457.5" x2="678.5" y2="452.5" stroke="#1c1c1c" stroke-width="0.91"/>
<polygon points="672.5,483.0 684.0,488.5 683.5,491.0 672.0,485.5" fill="#8a8a8a" stroke="#1c1c1c" stroke-width="0.78" />
<rect x="675.5" y="488.5" width="2.4" height="8" fill="#e0e0e0" stroke="#1c1c1c" stroke-width="0.6"/>
<rect x="819.7" y="364.2" width="2.6" height="8" fill="#d8d8d8" stroke="#1c1c1c" stroke-width="0.6"/>
<ellipse cx="821.0" cy="375.7" rx="7.5" ry="3.9" fill="#5a5a5a" stroke="#1c1c1c" stroke-width="1.04"/>
<ellipse cx="821.0" cy="373.7" rx="6.8" ry="3.4" fill="#6c6c6c" stroke="#1c1c1c" stroke-width="0.78"/>
<polygon points="812.3,246.0 821.0,250.4 821.0,366.1 812.3,361.8" fill="#b9b9b9" stroke="#1c1c1c" stroke-width="0.91" />
<polygon points="821.0,250.4 829.7,246.0 829.7,361.8 821.0,366.1" fill="#d4d4d4" stroke="#1c1c1c" stroke-width="0.91" />
<line x1="816.6" y1="248.2" x2="816.6" y2="361.0" stroke="#3a3a3a" stroke-width="1.69"/>
<line x1="825.4" y1="248.2" x2="825.4" y2="361.0" stroke="#3a3a3a" stroke-width="1.69"/>
<line x1="812.3" y1="358.8" x2="821.0" y2="363.1" stroke="#1c1c1c" stroke-width="0.78"/>
<line x1="829.7" y1="358.8" x2="821.0" y2="363.1" stroke="#1c1c1c" stroke-width="0.78"/>
<polygon points="828.0,343.2 860.3,359.2 855.3,362.2 823.0,346.2" fill="#d9d9d9" stroke="#1c1c1c" stroke-width="0.91" />
<polygon points="823.0,346.2 855.3,362.2 855.3,373.2 823.0,357.2" fill="#b4b4b4" stroke="#1c1c1c" stroke-width="1.04" />
<line x1="823.0" y1="350.7" x2="855.3" y2="366.7" stroke="#3a3a3a" stroke-width="1.56"/>
<polygon points="829.2,334.7 835.2,332.2 843.7,346.2 838.2,350.2" fill="#c9c9c9" stroke="#1c1c1c" stroke-width="0.91" />
<polygon points="853.3,349.0 858.3,346.0 848.3,362.0 843.3,359.5" fill="#c9c9c9" stroke="#1c1c1c" stroke-width="0.91" />
<polygon points="810.0,334.2 803.5,338.2 794.5,378.2 806.0,384.2" fill="#9c9c9c" stroke="#1c1c1c" stroke-width="1.04" />
<polygon points="810.0,334.2 817.5,338.2 809.0,385.2 797.5,379.7" fill="#c6c6c6" stroke="#1c1c1c" stroke-width="1.04" />
<line x1="814.5" y1="354.2" x2="803.5" y2="349.2" stroke="#1c1c1c" stroke-width="0.91"/>
<polygon points="797.5,379.7 809.0,385.2 808.5,387.7 797.0,382.2" fill="#8a8a8a" stroke="#1c1c1c" stroke-width="0.78" />
<rect x="800.5" y="385.2" width="2.4" height="8" fill="#e0e0e0" stroke="#1c1c1c" stroke-width="0.6"/>
<rect x="861.7" y="385.0" width="2.6" height="8" fill="#d8d8d8" stroke="#1c1c1c" stroke-width="0.6"/>
<ellipse cx="863.0" cy="396.5" rx="7.5" ry="3.9" fill="#5a5a5a" stroke="#1c1c1c" stroke-width="1.04"/>
<ellipse cx="863.0" cy="394.5" rx="6.8" ry="3.4" fill="#6c6c6c" stroke="#1c1c1c" stroke-width="0.78"/>
<polygon points="854.3,261.0 863.0,265.4 863.0,386.9 854.3,382.6" fill="#b9b9b9" stroke="#1c1c1c" stroke-width="0.91" />
<polygon points="863.0,265.4 871.7,261.0 871.7,382.6 863.0,386.9" fill="#d4d4d4" stroke="#1c1c1c" stroke-width="0.91" />
<line x1="858.6" y1="263.2" x2="858.6" y2="381.7" stroke="#3a3a3a" stroke-width="1.69"/>
<line x1="867.4" y1="263.2" x2="867.4" y2="381.7" stroke="#3a3a3a" stroke-width="1.69"/>
<line x1="854.3" y1="379.6" x2="863.0" y2="383.9" stroke="#1c1c1c" stroke-width="0.78"/>
<line x1="871.7" y1="379.6" x2="863.0" y2="383.9" stroke="#1c1c1c" stroke-width="0.78"/>
<polygon points="871.7,269.4 879.7,265.9 871.7,282.4" fill="#c0c0c0" stroke="#1c1c1c" stroke-width="0.91" />
<polygon points="812.3,256.4 805.3,259.9 812.3,271.4" fill="#c0c0c0" stroke="#1c1c1c" stroke-width="0.91" />
<polygon points="852.0,355.0 845.5,359.0 836.5,399.0 848.0,405.0" fill="#9c9c9c" stroke="#1c1c1c" stroke-width="1.04" />
<polygon points="852.0,355.0 859.5,359.0 851.0,406.0 839.5,400.5" fill="#c6c6c6" stroke="#1c1c1c" stroke-width="1.04" />
<line x1="856.5" y1="375.0" x2="845.5" y2="370.0" stroke="#1c1c1c" stroke-width="0.91"/>
<polygon points="839.5,400.5 851.0,406.0 850.5,408.5 839.0,403.0" fill="#8a8a8a" stroke="#1c1c1c" stroke-width="0.78" />
<rect x="842.5" y="406.0" width="2.4" height="8" fill="#e0e0e0" stroke="#1c1c1c" stroke-width="0.6"/>
<polygon points="710.0,330.0 760.0,310.0 760.0,411.0 710.0,376.0" fill="#b1b1b1" stroke="#1c1c1c" stroke-width="1.04" />
<polygon points="760.0,310.0 814.0,290.0 814.0,386.0 760.0,411.0" fill="#c1c1c1" stroke="#1c1c1c" stroke-width="1.04" />
<polygon points="749.0,252.0 763.0,245.0 783.0,254.0 769.0,262.0" fill="#c4c4c4" stroke="#1c1c1c" stroke-width="1.04" />
<ellipse cx="762.5" cy="247.5" rx="8.0" ry="4.6" fill="#b5b5b5" stroke="#1c1c1c" stroke-width="1.04"/>
<ellipse cx="762.5" cy="245.5" rx="8.0" ry="4.6" fill="#d4d4d4" stroke="#1c1c1c" stroke-width="1.04"/>
<ellipse cx="762.5" cy="245.5" rx="5.0" ry="2.8" fill="#c2c2c2" stroke="#1c1c1c" stroke-width="0.78"/>
<polygon points="419.2,450.8 900.1,208.6 900.1,221.1 419.2,463.3" fill="#c4c4c4" stroke="#1c1c1c" stroke-width="1.04" />
<polygon points="410.1,446.3 891.1,204.1 900.1,208.6 419.2,450.8" fill="#cecece" stroke="#1c1c1c" stroke-width="1.04" />
<polygon points="410.1,446.3 419.2,450.8 419.2,463.3 410.1,458.8" fill="#a8a8a8" stroke="#1c1c1c" stroke-width="1.04" />
<polygon points="414.6,448.5 895.5,206.3 899.2,208.1 418.3,450.3" fill="#5c5c5c" stroke="none" stroke-width="1.04" />
<line x1="414.6" y1="448.5" x2="895.5" y2="206.3" stroke="#1c1c1c" stroke-width="1.17"/>
<line x1="418.3" y1="450.3" x2="899.2" y2="208.1" stroke="#1c1c1c" stroke-width="1.17"/>
<line x1="419.2" y1="451.1" x2="900.1" y2="208.9" stroke="#1c1c1c" stroke-width="1.95"/>
<line x1="419.2" y1="456.4" x2="900.1" y2="214.2" stroke="#1c1c1c" stroke-width="1.95"/>
<line x1="419.2" y1="463.3" x2="900.1" y2="221.1" stroke="#1c1c1c" stroke-width="1.82"/>
<polygon points="468.4,428.5 496.6,442.5 496.6,449.5 468.4,435.5" fill="#9f9f9f" stroke="#1c1c1c" stroke-width="1.04" />
<polygon points="496.6,442.5 505.6,438.0 505.6,445.0 496.6,449.5" fill="#b8b8b8" stroke="#1c1c1c" stroke-width="1.04" />
<polygon points="468.4,428.5 477.3,424.0 505.6,438.0 496.6,442.5" fill="#d6d6d6" stroke="#1c1c1c" stroke-width="1.04" />
<line x1="470.9" y1="427.3" x2="499.1" y2="441.3" stroke="#1c1c1c" stroke-width="1.04"/>
<line x1="474.9" y1="425.3" x2="503.1" y2="439.3" stroke="#1c1c1c" stroke-width="1.04"/>
<polygon points="700.9,311.4 729.0,325.4 729.0,332.4 700.9,318.4" fill="#9f9f9f" stroke="#1c1c1c" stroke-width="1.04" />
<polygon points="729.0,325.4 738.0,320.9 738.0,327.9 729.0,332.4" fill="#b8b8b8" stroke="#1c1c1c" stroke-width="1.04" />
<polygon points="700.9,311.4 709.8,306.9 738.0,320.9 729.0,325.4" fill="#d6d6d6" stroke="#1c1c1c" stroke-width="1.04" />
<line x1="703.4" y1="310.2" x2="731.5" y2="324.1" stroke="#1c1c1c" stroke-width="1.04"/>
<line x1="707.4" y1="308.1" x2="735.5" y2="322.1" stroke="#1c1c1c" stroke-width="1.04"/>
<polygon points="818.1,252.3 846.2,266.3 846.2,273.3 818.1,259.3" fill="#9f9f9f" stroke="#1c1c1c" stroke-width="1.04" />
<polygon points="846.2,266.3 855.1,261.8 855.1,268.8 846.2,273.3" fill="#b8b8b8" stroke="#1c1c1c" stroke-width="1.04" />
<polygon points="818.1,252.3 827.1,247.8 855.1,261.8 846.2,266.3" fill="#d6d6d6" stroke="#1c1c1c" stroke-width="1.04" />
<line x1="820.6" y1="251.1" x2="848.7" y2="265.1" stroke="#1c1c1c" stroke-width="1.04"/>
<line x1="824.6" y1="249.1" x2="852.7" y2="263.1" stroke="#1c1c1c" stroke-width="1.04"/>
<polygon points="455.5,468.8 936.1,226.5 936.1,241.0 455.5,483.3" fill="#c4c4c4" stroke="#1c1c1c" stroke-width="1.04" />
<polygon points="446.5,464.3 927.1,222.0 936.1,226.5 455.5,468.8" fill="#cecece" stroke="#1c1c1c" stroke-width="1.04" />
<polygon points="446.5,464.3 455.5,468.8 455.5,483.3 446.5,478.8" fill="#a8a8a8" stroke="#1c1c1c" stroke-width="1.04" />
<polygon points="447.4,464.7 928.0,222.5 931.7,224.3 451.1,466.6" fill="#5c5c5c" stroke="none" stroke-width="1.04" />
<line x1="447.4" y1="464.7" x2="928.0" y2="222.5" stroke="#1c1c1c" stroke-width="1.17"/>
<line x1="451.1" y1="466.6" x2="931.7" y2="224.3" stroke="#1c1c1c" stroke-width="1.17"/>
<line x1="455.5" y1="469.1" x2="936.1" y2="226.8" stroke="#1c1c1c" stroke-width="1.95"/>
<line x1="455.5" y1="474.4" x2="936.1" y2="232.2" stroke="#1c1c1c" stroke-width="1.95"/>
<line x1="455.5" y1="483.3" x2="936.1" y2="241.0" stroke="#1c1c1c" stroke-width="1.82"/>
<line x1="455.5" y1="481.3" x2="936.1" y2="239.0" stroke="#1c1c1c" stroke-width="1.56"/>
<polygon points="441.0,434.3 466.8,421.3 509.1,442.2 483.3,455.3" fill="#c9c9c9" stroke="#1c1c1c" stroke-width="1.04" />
<line x1="466.0" y1="431.8" x2="486.1" y2="441.8" stroke="#1c1c1c" stroke-width="7.1" stroke-linecap="round"/>
<line x1="466.0" y1="431.8" x2="486.1" y2="441.8" stroke="#7c7c7c" stroke-width="5.5" stroke-linecap="round"/>
<polygon points="838.5,234.1 864.3,221.1 906.4,242.0 880.5,255.1" fill="#c9c9c9" stroke="#1c1c1c" stroke-width="1.04" />
<line x1="861.4" y1="232.6" x2="881.4" y2="242.6" stroke="#1c1c1c" stroke-width="7.1" stroke-linecap="round"/>
<line x1="861.4" y1="232.6" x2="881.4" y2="242.6" stroke="#7c7c7c" stroke-width="5.5" stroke-linecap="round"/>
<rect x="184.2" y="465.5" width="2.6" height="8" fill="#d8d8d8" stroke="#1c1c1c" stroke-width="0.6"/>
<ellipse cx="185.5" cy="477.0" rx="7.5" ry="3.9" fill="#5a5a5a" stroke="#1c1c1c" stroke-width="1.04"/>
<ellipse cx="185.5" cy="475.0" rx="6.8" ry="3.4" fill="#6c6c6c" stroke="#1c1c1c" stroke-width="0.78"/>
<polygon points="176.8,346.7 185.5,351.0 185.5,467.4 176.8,463.0" fill="#b9b9b9" stroke="#1c1c1c" stroke-width="0.91" />
<polygon points="185.5,351.0 194.2,346.7 194.2,463.0 185.5,467.4" fill="#d4d4d4" stroke="#1c1c1c" stroke-width="0.91" />
<line x1="181.2" y1="348.9" x2="181.2" y2="462.2" stroke="#3a3a3a" stroke-width="1.69"/>
<line x1="189.8" y1="348.9" x2="189.8" y2="462.2" stroke="#3a3a3a" stroke-width="1.69"/>
<line x1="176.8" y1="460.0" x2="185.5" y2="464.4" stroke="#1c1c1c" stroke-width="0.78"/>
<line x1="194.2" y1="460.0" x2="185.5" y2="464.4" stroke="#1c1c1c" stroke-width="0.78"/>
<rect x="168.5" y="464.5" width="2.4" height="9" fill="#e0e0e0" stroke="#1c1c1c" stroke-width="0.6"/>
<polygon points="147.2,456.6 178.5,441.0 183.5,444.0 152.2,459.6" fill="#d9d9d9" stroke="#1c1c1c" stroke-width="0.91" />
<polygon points="152.2,459.6 183.5,444.0 183.5,455.0 152.2,470.6" fill="#c6c6c6" stroke="#1c1c1c" stroke-width="1.04" />
<line x1="152.2" y1="464.1" x2="183.5" y2="448.5" stroke="#3a3a3a" stroke-width="1.56"/>
<polygon points="177.8,435.5 172.8,432.5 164.8,448.5 170.8,451.5" fill="#c9c9c9" stroke="#1c1c1c" stroke-width="0.91" />
<rect x="143.2" y="486.0" width="2.6" height="8" fill="#d8d8d8" stroke="#1c1c1c" stroke-width="0.6"/>
<ellipse cx="144.5" cy="497.5" rx="7.5" ry="3.9" fill="#5a5a5a" stroke="#1c1c1c" stroke-width="1.04"/>
<ellipse cx="144.5" cy="495.5" rx="6.8" ry="3.4" fill="#6c6c6c" stroke="#1c1c1c" stroke-width="0.78"/>
<polygon points="135.8,362.2 144.5,366.5 144.5,487.9 135.8,483.6" fill="#b9b9b9" stroke="#1c1c1c" stroke-width="0.91" />
<polygon points="144.5,366.5 153.2,362.2 153.2,483.6 144.5,487.9" fill="#d4d4d4" stroke="#1c1c1c" stroke-width="0.91" />
<line x1="140.2" y1="364.4" x2="140.2" y2="482.7" stroke="#3a3a3a" stroke-width="1.69"/>
<line x1="148.8" y1="364.4" x2="148.8" y2="482.7" stroke="#3a3a3a" stroke-width="1.69"/>
<line x1="135.8" y1="480.6" x2="144.5" y2="484.9" stroke="#1c1c1c" stroke-width="0.78"/>
<line x1="153.2" y1="480.6" x2="144.5" y2="484.9" stroke="#1c1c1c" stroke-width="0.78"/>
<polygon points="135.8,370.5 127.8,367.0 135.8,383.5" fill="#c0c0c0" stroke="#1c1c1c" stroke-width="0.91" />
<polygon points="194.2,357.0 201.2,360.5 194.2,372.0" fill="#c0c0c0" stroke="#1c1c1c" stroke-width="0.91" />
<polygon points="134.3,450.0 119.8,479.0 120.8,482.5 136.3,489.5 136.3,454.0" fill="#c2c2c2" stroke="#1c1c1c" stroke-width="1.04" />
<line x1="119.8" y1="479.0" x2="134.8" y2="486.0" stroke="#1c1c1c" stroke-width="0.78"/>
<rect x="126.3" y="486.0" width="2.4" height="8" fill="#e0e0e0" stroke="#1c1c1c" stroke-width="0.6"/>
<rect x="324.7" y="530.5" width="2.6" height="8" fill="#d8d8d8" stroke="#1c1c1c" stroke-width="0.6"/>
<ellipse cx="326.0" cy="542.0" rx="7.5" ry="3.9" fill="#5a5a5a" stroke="#1c1c1c" stroke-width="1.04"/>
<ellipse cx="326.0" cy="540.0" rx="6.8" ry="3.4" fill="#6c6c6c" stroke="#1c1c1c" stroke-width="0.78"/>
<polygon points="317.3,416.2 326.0,420.6 326.0,532.4 317.3,528.0" fill="#b9b9b9" stroke="#1c1c1c" stroke-width="0.91" />
<polygon points="326.0,420.6 334.7,416.2 334.7,528.0 326.0,532.4" fill="#d4d4d4" stroke="#1c1c1c" stroke-width="0.91" />
<line x1="321.6" y1="418.4" x2="321.6" y2="527.2" stroke="#3a3a3a" stroke-width="1.69"/>
<line x1="330.4" y1="418.4" x2="330.4" y2="527.2" stroke="#3a3a3a" stroke-width="1.69"/>
<line x1="317.3" y1="525.0" x2="326.0" y2="529.4" stroke="#1c1c1c" stroke-width="0.78"/>
<line x1="334.7" y1="525.0" x2="326.0" y2="529.4" stroke="#1c1c1c" stroke-width="0.78"/>
<rect x="309.0" y="529.5" width="2.4" height="9" fill="#e0e0e0" stroke="#1c1c1c" stroke-width="0.6"/>
<polygon points="287.7,521.6 319.0,506.0 324.0,509.0 292.7,524.6" fill="#d9d9d9" stroke="#1c1c1c" stroke-width="0.91" />
<polygon points="292.7,524.6 324.0,509.0 324.0,520.0 292.7,535.6" fill="#c6c6c6" stroke="#1c1c1c" stroke-width="1.04" />
<line x1="292.7" y1="529.1" x2="324.0" y2="513.5" stroke="#3a3a3a" stroke-width="1.56"/>
<polygon points="318.3,500.5 313.3,497.5 305.3,513.5 311.3,516.5" fill="#c9c9c9" stroke="#1c1c1c" stroke-width="0.91" />
<rect x="283.7" y="551.0" width="2.6" height="8" fill="#d8d8d8" stroke="#1c1c1c" stroke-width="0.6"/>
<ellipse cx="285.0" cy="562.5" rx="7.5" ry="3.9" fill="#5a5a5a" stroke="#1c1c1c" stroke-width="1.04"/>
<ellipse cx="285.0" cy="560.5" rx="6.8" ry="3.4" fill="#6c6c6c" stroke="#1c1c1c" stroke-width="0.78"/>
<polygon points="276.3,431.7 285.0,436.0 285.0,552.9 276.3,548.6" fill="#b9b9b9" stroke="#1c1c1c" stroke-width="0.91" />
<polygon points="285.0,436.0 293.7,431.7 293.7,548.6 285.0,552.9" fill="#d4d4d4" stroke="#1c1c1c" stroke-width="0.91" />
<line x1="280.6" y1="433.9" x2="280.6" y2="547.7" stroke="#3a3a3a" stroke-width="1.69"/>
<line x1="289.4" y1="433.9" x2="289.4" y2="547.7" stroke="#3a3a3a" stroke-width="1.69"/>
<line x1="276.3" y1="545.6" x2="285.0" y2="549.9" stroke="#1c1c1c" stroke-width="0.78"/>
<line x1="293.7" y1="545.6" x2="285.0" y2="549.9" stroke="#1c1c1c" stroke-width="0.78"/>
<polygon points="276.3,440.0 268.3,436.5 276.3,453.0" fill="#c0c0c0" stroke="#1c1c1c" stroke-width="0.91" />
<polygon points="334.7,426.6 341.7,430.1 334.7,441.6" fill="#c0c0c0" stroke="#1c1c1c" stroke-width="0.91" />
<polygon points="274.8,515.0 260.3,544.0 261.3,547.5 276.8,554.5 276.8,519.0" fill="#c2c2c2" stroke="#1c1c1c" stroke-width="1.04" />
<line x1="260.3" y1="544.0" x2="275.3" y2="551.0" stroke="#1c1c1c" stroke-width="0.78"/>
<rect x="266.8" y="551.0" width="2.4" height="8" fill="#e0e0e0" stroke="#1c1c1c" stroke-width="0.6"/>
<polygon points="101.5,307.5 390.2,450.3 390.2,462.8 101.5,320.0" fill="#bababa" stroke="#1c1c1c" stroke-width="1.04" />
<polygon points="101.5,307.5 110.5,302.9 399.1,445.8 390.2,450.3" fill="#cecece" stroke="#1c1c1c" stroke-width="1.04" />
<polygon points="390.2,450.3 399.1,445.8 399.1,458.3 390.2,462.8" fill="#c4c4c4" stroke="#1c1c1c" stroke-width="1.04" />
<polygon points="102.4,307.0 391.1,449.9 394.7,448.0 106.1,305.2" fill="#5c5c5c" stroke="none" stroke-width="1.04" />
<line x1="102.4" y1="307.0" x2="391.1" y2="449.9" stroke="#1c1c1c" stroke-width="1.17"/>
<line x1="106.1" y1="305.2" x2="394.7" y2="448.0" stroke="#1c1c1c" stroke-width="1.17"/>
<line x1="101.5" y1="307.8" x2="390.2" y2="450.6" stroke="#1c1c1c" stroke-width="1.95"/>
<line x1="101.5" y1="313.1" x2="390.2" y2="455.9" stroke="#1c1c1c" stroke-width="1.95"/>
<line x1="101.5" y1="320.0" x2="390.2" y2="462.8" stroke="#1c1c1c" stroke-width="1.82"/>
<polygon points="134.1,353.9 143.2,358.4 143.2,365.4 134.1,360.9" fill="#9f9f9f" stroke="#1c1c1c" stroke-width="1.04" />
<polygon points="143.2,358.4 171.2,344.4 171.2,351.4 143.2,365.4" fill="#b8b8b8" stroke="#1c1c1c" stroke-width="1.04" />
<polygon points="134.1,353.9 162.1,339.9 171.2,344.4 143.2,358.4" fill="#d6d6d6" stroke="#1c1c1c" stroke-width="1.04" />
<line x1="136.7" y1="355.2" x2="164.6" y2="341.2" stroke="#1c1c1c" stroke-width="1.04"/>
<line x1="140.7" y1="357.2" x2="168.6" y2="343.2" stroke="#1c1c1c" stroke-width="1.04"/>
<polygon points="222.5,397.6 231.6,402.1 231.6,409.1 222.5,404.6" fill="#9f9f9f" stroke="#1c1c1c" stroke-width="1.04" />
<polygon points="231.6,402.1 259.5,388.1 259.5,395.1 231.6,409.1" fill="#b8b8b8" stroke="#1c1c1c" stroke-width="1.04" />
<polygon points="222.5,397.6 250.4,383.6 259.5,388.1 231.6,402.1" fill="#d6d6d6" stroke="#1c1c1c" stroke-width="1.04" />
<line x1="225.0" y1="398.9" x2="252.9" y2="384.9" stroke="#1c1c1c" stroke-width="1.04"/>
<line x1="229.1" y1="400.9" x2="256.9" y2="386.9" stroke="#1c1c1c" stroke-width="1.04"/>
<polygon points="310.3,441.1 319.4,445.6 319.4,452.6 310.3,448.1" fill="#9f9f9f" stroke="#1c1c1c" stroke-width="1.04" />
<polygon points="319.4,445.6 347.3,431.6 347.3,438.6 319.4,452.6" fill="#b8b8b8" stroke="#1c1c1c" stroke-width="1.04" />
<polygon points="310.3,441.1 338.2,427.1 347.3,431.6 319.4,445.6" fill="#d6d6d6" stroke="#1c1c1c" stroke-width="1.04" />
<line x1="312.9" y1="442.3" x2="340.7" y2="428.3" stroke="#1c1c1c" stroke-width="1.04"/>
<line x1="316.9" y1="444.3" x2="344.7" y2="430.3" stroke="#1c1c1c" stroke-width="1.04"/>
<polygon points="65.6,325.5 354.4,468.3 354.4,482.8 65.6,340.0" fill="#bababa" stroke="#1c1c1c" stroke-width="1.04" />
<polygon points="65.6,325.5 74.5,321.0 363.3,463.8 354.4,468.3" fill="#cecece" stroke="#1c1c1c" stroke-width="1.04" />
<polygon points="354.4,468.3 363.3,463.8 363.3,478.3 354.4,482.8" fill="#c4c4c4" stroke="#1c1c1c" stroke-width="1.04" />
<polygon points="70.0,323.3 358.8,466.1 362.4,464.3 73.6,321.4" fill="#5c5c5c" stroke="none" stroke-width="1.04" />
<line x1="70.0" y1="323.3" x2="358.8" y2="466.1" stroke="#1c1c1c" stroke-width="1.17"/>
<line x1="73.6" y1="321.4" x2="362.4" y2="464.3" stroke="#1c1c1c" stroke-width="1.17"/>
<line x1="65.6" y1="325.8" x2="354.4" y2="468.6" stroke="#1c1c1c" stroke-width="1.95"/>
<line x1="65.6" y1="331.1" x2="354.4" y2="474.0" stroke="#1c1c1c" stroke-width="1.95"/>
<line x1="65.6" y1="340.0" x2="354.4" y2="482.8" stroke="#1c1c1c" stroke-width="1.82"/>
<line x1="65.6" y1="338.0" x2="354.4" y2="480.8" stroke="#1c1c1c" stroke-width="1.56"/>
<polygon points="96.8,340.5 138.8,319.4 185.2,342.4 143.3,363.4" fill="#c9c9c9" stroke="#1c1c1c" stroke-width="1.04" />
<line x1="122.0" y1="340.9" x2="141.9" y2="330.9" stroke="#1c1c1c" stroke-width="7.1" stroke-linecap="round"/>
<line x1="122.0" y1="340.9" x2="141.9" y2="330.9" stroke="#7c7c7c" stroke-width="5.5" stroke-linecap="round"/>
<line x1="144.2" y1="351.9" x2="164.1" y2="341.9" stroke="#1c1c1c" stroke-width="7.1" stroke-linecap="round"/>
<line x1="144.2" y1="351.9" x2="164.1" y2="341.9" stroke="#7c7c7c" stroke-width="5.5" stroke-linecap="round"/>
<polygon points="302.9,442.4 344.6,421.3 368.9,433.3 327.1,454.3" fill="#c9c9c9" stroke="#1c1c1c" stroke-width="1.04" />
<line x1="325.9" y1="441.8" x2="345.8" y2="431.8" stroke="#1c1c1c" stroke-width="7.1" stroke-linecap="round"/>
<line x1="325.9" y1="441.8" x2="345.8" y2="431.8" stroke="#7c7c7c" stroke-width="5.5" stroke-linecap="round"/>
<rect x="17.7" y="421.0" width="2.6" height="8" fill="#d8d8d8" stroke="#1c1c1c" stroke-width="0.6"/>
<ellipse cx="19.0" cy="432.5" rx="7.5" ry="3.9" fill="#5a5a5a" stroke="#1c1c1c" stroke-width="1.04"/>
<ellipse cx="19.0" cy="430.5" rx="6.8" ry="3.4" fill="#6c6c6c" stroke="#1c1c1c" stroke-width="0.78"/>
<polygon points="10.3,307.6 19.0,312.0 19.0,422.9 10.3,418.6" fill="#b9b9b9" stroke="#1c1c1c" stroke-width="0.91" />
<polygon points="19.0,312.0 27.7,307.6 27.7,418.6 19.0,422.9" fill="#d4d4d4" stroke="#1c1c1c" stroke-width="0.91" />
<line x1="14.7" y1="309.8" x2="14.7" y2="417.7" stroke="#3a3a3a" stroke-width="1.69"/>
<line x1="23.4" y1="309.8" x2="23.4" y2="417.7" stroke="#3a3a3a" stroke-width="1.69"/>
<line x1="10.3" y1="415.6" x2="19.0" y2="419.9" stroke="#1c1c1c" stroke-width="0.78"/>
<line x1="27.7" y1="415.6" x2="19.0" y2="419.9" stroke="#1c1c1c" stroke-width="0.78"/>
<rect x="980.7" y="325.0" width="2.6" height="8" fill="#d8d8d8" stroke="#1c1c1c" stroke-width="0.6"/>
<ellipse cx="982.0" cy="336.5" rx="7.5" ry="3.9" fill="#5a5a5a" stroke="#1c1c1c" stroke-width="1.04"/>
<ellipse cx="982.0" cy="334.5" rx="6.8" ry="3.4" fill="#6c6c6c" stroke="#1c1c1c" stroke-width="0.78"/>
<polygon points="973.3,227.7 982.0,232.0 982.0,326.9 973.3,322.6" fill="#b9b9b9" stroke="#1c1c1c" stroke-width="0.91" />
<polygon points="982.0,232.0 990.7,227.7 990.7,322.6 982.0,326.9" fill="#d4d4d4" stroke="#1c1c1c" stroke-width="0.91" />
<line x1="977.6" y1="229.8" x2="977.6" y2="321.7" stroke="#3a3a3a" stroke-width="1.69"/>
<line x1="986.4" y1="229.8" x2="986.4" y2="321.7" stroke="#3a3a3a" stroke-width="1.69"/>
<line x1="973.3" y1="319.6" x2="982.0" y2="323.9" stroke="#1c1c1c" stroke-width="0.78"/>
<line x1="990.7" y1="319.6" x2="982.0" y2="323.9" stroke="#1c1c1c" stroke-width="0.78"/>
<rect x="399.7" y="612.0" width="2.6" height="8" fill="#d8d8d8" stroke="#1c1c1c" stroke-width="0.6"/>
<ellipse cx="401.0" cy="623.5" rx="7.5" ry="3.9" fill="#5a5a5a" stroke="#1c1c1c" stroke-width="1.04"/>
<ellipse cx="401.0" cy="621.5" rx="6.8" ry="3.4" fill="#6c6c6c" stroke="#1c1c1c" stroke-width="0.78"/>
<polygon points="392.3,510.6 401.0,515.0 401.0,613.9 392.3,609.6" fill="#b9b9b9" stroke="#1c1c1c" stroke-width="0.91" />
<polygon points="401.0,515.0 409.7,510.6 409.7,609.6 401.0,613.9" fill="#d4d4d4" stroke="#1c1c1c" stroke-width="0.91" />
<line x1="396.6" y1="512.8" x2="396.6" y2="608.7" stroke="#3a3a3a" stroke-width="1.69"/>
<line x1="405.4" y1="512.8" x2="405.4" y2="608.7" stroke="#3a3a3a" stroke-width="1.69"/>
<line x1="392.3" y1="606.6" x2="401.0" y2="610.9" stroke="#1c1c1c" stroke-width="0.78"/>
<line x1="409.7" y1="606.6" x2="401.0" y2="610.9" stroke="#1c1c1c" stroke-width="0.78"/>
<polygon points="535.9,89.8 569.9,72.8 569.9,102.8 535.9,119.8" fill="#cfcfcf" stroke="#1c1c1c" stroke-width="1.04" />
<ellipse cx="552.9" cy="98.3" rx="8.8" ry="10.2" fill="#c6c6c6" stroke="#1c1c1c" stroke-width="1.04"/>
<polygon points="639.9,78.7 653.9,85.7 653.9,109.7 639.9,102.7" fill="#c6c6c6" stroke="#1c1c1c" stroke-width="1.04" />
<ellipse cx="646.9" cy="96.2" rx="3.6" ry="4.2" fill="#bdbdbd" stroke="#1c1c1c" stroke-width="1.04"/>
<polygon points="598.8,6.2 515.8,47.8 572.9,76.2 598.8,63.2 624.9,76.2 681.8,47.7" fill="#c4c4c4" stroke="#1c1c1c" stroke-width="1.04" />
<polyline points="560.8,35.3 525.8,52.8" fill="none" stroke="#3a3a3a" stroke-width="1.0"/>
<polyline points="636.8,35.2 671.8,52.7" fill="none" stroke="#3a3a3a" stroke-width="1.0"/>
<polyline points="564.3,37.0 529.3,54.5" fill="none" stroke="#3a3a3a" stroke-width="2.2"/>
<polyline points="633.3,37.0 668.3,54.5" fill="none" stroke="#3a3a3a" stroke-width="2.2"/>
<polyline points="570.8,40.3 535.8,57.8" fill="none" stroke="#3a3a3a" stroke-width="1.0"/>
<polyline points="626.8,40.2 661.8,57.7" fill="none" stroke="#3a3a3a" stroke-width="1.0"/>
<polyline points="587.8,48.7 552.8,66.3" fill="none" stroke="#3a3a3a" stroke-width="1.0"/>
<polyline points="609.8,48.7 644.8,66.2" fill="none" stroke="#3a3a3a" stroke-width="1.0"/>
<polyline points="594.3,52.0 559.4,69.5" fill="none" stroke="#3a3a3a" stroke-width="2.2"/>
<polyline points="603.3,52.0 638.3,69.5" fill="none" stroke="#3a3a3a" stroke-width="2.2"/>
<polyline points="597.8,53.7 562.9,71.3" fill="none" stroke="#3a3a3a" stroke-width="1.0"/>
<polyline points="599.8,53.7 634.8,71.2" fill="none" stroke="#3a3a3a" stroke-width="1.0"/>
<ellipse cx="545.0" cy="62.0" rx="15.0" ry="13.5" fill="#d6d6d6" stroke="#1c1c1c" stroke-width="1.04"/>
<ellipse cx="545.0" cy="62.0" rx="12.5" ry="11.0" fill="#c8c8c8" stroke="#1c1c1c" stroke-width="0.91"/>
<ellipse cx="545.0" cy="64.0" rx="4.0" ry="4.0" fill="#b0b0b0" stroke="#1c1c1c" stroke-width="0.91"/>
<ellipse cx="648.0" cy="62.0" rx="15.0" ry="13.5" fill="#d6d6d6" stroke="#1c1c1c" stroke-width="1.04"/>
<ellipse cx="648.0" cy="62.0" rx="12.5" ry="11.0" fill="#c8c8c8" stroke="#1c1c1c" stroke-width="0.91"/>
<ellipse cx="648.0" cy="64.0" rx="4.0" ry="4.0" fill="#b0b0b0" stroke="#1c1c1c" stroke-width="0.91"/>
<polygon points="598.8,59.2 648.8,34.2 642.8,31.6 636.4,29.3 629.4,27.4 622.1,25.9 614.5,24.8 606.7,24.1 598.8,23.9 590.9,24.1 583.0,24.8 575.4,25.9 568.1,27.4 561.2,29.3 554.7,31.6 548.8,34.3" fill="#8f8f8f" stroke="#1c1c1c" stroke-width="1.17" />
<polyline points="634.3,41.0 629.3,38.8 623.9,37.0 618.0,35.5 611.8,34.5 605.3,33.9 598.8,33.6 592.2,33.9 585.8,34.5 579.6,35.6 573.7,37.0 568.2,38.8 563.3,41.0" fill="none" stroke="#3c3c3c" stroke-width="1.6"/>
<polyline points="633.0,41.6 628.2,39.5 623.0,37.8 617.3,36.4 611.3,35.4 605.1,34.8 598.8,34.6 592.5,34.8 586.3,35.4 580.3,36.4 574.6,37.8 569.3,39.6 564.6,41.7" fill="none" stroke="#e8e8e8" stroke-width="0.9"/>
<polygon points="598.8,58.2 631.8,41.7 627.2,39.7 622.1,38.0 616.6,36.7 610.9,35.7 604.9,35.1 598.8,34.9 592.7,35.1 586.7,35.7 580.9,36.7 575.5,38.0 570.4,39.7 565.8,41.8" fill="#7e7e7e" stroke="#1c1c1c" stroke-width="1.17" />
<polygon points="598.8,2.5 516.8,43.5 515.8,46.0 518.8,47.5 523.8,47.0 548.8,34.5 554.7,31.8 561.2,29.5 568.1,27.6 575.4,26.1 583.0,25.0 590.9,24.3 598.8,24.1 606.7,24.3 614.5,25.0 622.1,26.1 629.4,27.6 636.4,29.5 642.8,31.8 648.8,34.4 673.8,46.9 678.8,47.4 681.8,45.9 680.7,43.4" fill="#5e5e5e" stroke="#1c1c1c" stroke-width="1.04" />
<polygon points="598.8,0.2 516.8,41.3 515.8,43.8 518.8,45.3 523.8,44.8 548.8,32.3 554.7,29.6 561.2,27.3 568.1,25.4 575.4,23.9 583.0,22.8 590.9,22.1 598.8,21.9 606.7,22.1 614.5,22.8 622.1,23.9 629.4,25.4 636.4,27.3 642.8,29.6 648.8,32.2 673.8,44.7 678.8,45.2 681.8,43.7 680.7,41.2" fill="#7e7e7e" stroke="#1c1c1c" stroke-width="1.30" />
<polygon points="598.8,54.7 538.9,84.8 545.9,88.3 598.8,61.7 651.9,88.2 658.9,84.7" fill="#c9c9c9" stroke="#1c1c1c" stroke-width="1.04" />
<polygon points="596.4,59.5 543.9,85.3 653.9,85.2 601.2,59.5" fill="#7e7e7e" stroke="#1c1c1c" stroke-width="1.30" />
<polygon points="5.0,302.5 62.6,331.0 62.6,353.0 5.0,324.5" fill="#c8c8c8" stroke="#1c1c1c" stroke-width="1.04" />
<line x1="5.0" y1="314.6" x2="62.6" y2="343.1" stroke="#1c1c1c" stroke-width="1.43"/>
<line x1="5.0" y1="317.9" x2="62.6" y2="346.4" stroke="#1c1c1c" stroke-width="1.43"/>
<polygon points="62.6,331.0 88.9,344.0 88.9,370.0 62.6,357.0" fill="#c6c6c6" stroke="#1c1c1c" stroke-width="1.04" />
<ellipse cx="75.7" cy="352.5" rx="6.8" ry="7.8" fill="#bdbdbd" stroke="#1c1c1c" stroke-width="1.04"/>
<polygon points="94.9,345.0 122.1,358.4 122.1,393.4 94.9,380.0" fill="#c6c6c6" stroke="#1c1c1c" stroke-width="1.04" />
<ellipse cx="108.5" cy="371.2" rx="7.0" ry="8.1" fill="#bdbdbd" stroke="#1c1c1c" stroke-width="1.04"/>
<polygon points="115.5,300.4 144.5,285.9 144.5,309.9 115.5,324.4" fill="#cfcfcf" stroke="#1c1c1c" stroke-width="1.04" />
<ellipse cx="130.0" cy="307.2" rx="7.5" ry="8.7" fill="#c6c6c6" stroke="#1c1c1c" stroke-width="1.04"/>
<polygon points="7.0,302.5 90.0,261.0 141.4,286.4 109.5,302.4 141.8,318.4 90.9,344.0" fill="#c4c4c4" stroke="#1c1c1c" stroke-width="1.04" />
<polyline points="59.1,286.5 100.1,266.0" fill="none" stroke="#3a3a3a" stroke-width="1.0"/>
<polyline points="59.4,318.5 100.8,339.0" fill="none" stroke="#3a3a3a" stroke-width="1.0"/>
<polyline points="62.6,288.2 103.6,267.7" fill="none" stroke="#3a3a3a" stroke-width="2.2"/>
<polyline points="62.9,316.7 104.3,337.2" fill="none" stroke="#3a3a3a" stroke-width="2.2"/>
<polyline points="69.2,291.5 110.2,271.0" fill="none" stroke="#3a3a3a" stroke-width="1.0"/>
<polyline points="69.4,313.5 110.8,333.9" fill="none" stroke="#3a3a3a" stroke-width="1.0"/>
<polyline points="86.4,300.0 127.3,279.4" fill="none" stroke="#3a3a3a" stroke-width="1.0"/>
<polyline points="86.4,305.0 127.8,325.4" fill="none" stroke="#3a3a3a" stroke-width="1.0"/>
<polyline points="92.9,303.2 133.9,282.7" fill="none" stroke="#3a3a3a" stroke-width="2.2"/>
<polyline points="92.9,301.7 134.3,322.2" fill="none" stroke="#3a3a3a" stroke-width="2.2"/>
<polyline points="96.4,305.0 137.4,284.4" fill="none" stroke="#3a3a3a" stroke-width="1.0"/>
<polyline points="96.4,300.0 137.8,320.4" fill="none" stroke="#3a3a3a" stroke-width="1.0"/>
<polygon points="103.4,301.5 59.5,323.5 54.8,320.9 50.7,318.0 47.3,315.0 44.6,311.8 42.6,308.4 41.4,305.0 41.0,301.5 41.3,298.0 42.5,294.6 44.4,291.2 47.0,288.0 50.4,284.9 54.4,282.1 59.0,279.5" fill="#8f8f8f" stroke="#1c1c1c" stroke-width="1.17" />
<polyline points="74.0,315.7 70.3,313.7 67.3,311.4 64.8,309.0 63.0,306.4 61.9,303.7 61.6,301.0 61.9,298.2 62.9,295.6 64.7,293.0 67.1,290.5 70.1,288.3 73.7,286.2" fill="none" stroke="#3c3c3c" stroke-width="1.6"/>
<polyline points="75.3,315.1 71.8,313.1 68.9,310.9 66.5,308.6 64.8,306.1 63.8,303.6 63.4,301.0 63.7,298.4 64.7,295.8 66.4,293.3 68.7,291.0 71.6,288.8 75.0,286.9" fill="none" stroke="#e8e8e8" stroke-width="0.9"/>
<polygon points="103.4,300.5 76.5,314.0 73.2,312.1 70.3,310.0 68.1,307.8 66.5,305.4 65.5,303.0 65.1,300.5 65.4,298.0 66.4,295.5 67.9,293.2 70.1,290.9 72.9,288.8 76.2,287.0" fill="#7e7e7e" stroke="#1c1c1c" stroke-width="1.17" />
<polygon points="1.0,301.7 83.0,260.7 88.0,260.2 91.0,261.7 90.0,264.2 59.0,279.7 54.4,282.3 50.4,285.1 47.0,288.2 44.4,291.4 42.5,294.8 41.3,298.2 41.0,301.7 41.4,305.2 42.6,308.6 44.6,312.0 47.3,315.2 50.7,318.2 54.8,321.1 59.5,323.7 90.8,339.2 91.8,341.7 88.8,343.2 83.8,342.7" fill="#5e5e5e" stroke="#1c1c1c" stroke-width="1.04" />
<polygon points="1.0,299.5 83.0,258.5 88.0,258.0 91.0,259.5 90.0,262.0 59.0,277.5 54.4,280.1 50.4,282.9 47.0,286.0 44.4,289.2 42.5,292.6 41.3,296.0 41.0,299.5 41.4,303.0 42.6,306.4 44.6,309.8 47.3,313.0 50.7,316.0 54.8,318.9 59.5,321.5 90.8,337.0 91.8,339.5 88.8,341.0 83.8,340.5" fill="#7e7e7e" stroke="#1c1c1c" stroke-width="1.30" />
<polygon points="105.5,301.0 165.4,270.9 172.4,274.4 119.5,300.9 173.0,327.4 166.0,330.9" fill="#c9c9c9" stroke="#1c1c1c" stroke-width="1.04" />
<polygon points="119.1,297.7 170.4,271.4 171.0,326.4 119.1,300.1" fill="#7e7e7e" stroke="#1c1c1c" stroke-width="1.30" />
<polygon points="938.2,231.5 994.8,203.0 994.8,225.0 938.2,253.5" fill="#d2d2d2" stroke="#1c1c1c" stroke-width="1.04" />
<line x1="938.2" y1="243.6" x2="994.8" y2="215.1" stroke="#1c1c1c" stroke-width="1.43"/>
<line x1="938.2" y1="246.9" x2="994.8" y2="218.4" stroke="#1c1c1c" stroke-width="1.43"/>
<polygon points="912.4,244.5 938.2,231.5 938.2,257.5 912.4,270.5" fill="#cfcfcf" stroke="#1c1c1c" stroke-width="1.04" />
<ellipse cx="925.3" cy="253.0" rx="6.8" ry="7.8" fill="#c6c6c6" stroke="#1c1c1c" stroke-width="1.04"/>
<polygon points="893.5,252.1 906.4,245.5 906.4,273.5 893.5,280.1" fill="#cfcfcf" stroke="#1c1c1c" stroke-width="1.04" />
<ellipse cx="899.9" cy="264.8" rx="3.4" ry="3.9" fill="#c6c6c6" stroke="#1c1c1c" stroke-width="1.04"/>
<polygon points="856.1,186.6 885.1,201.1 885.1,225.1 856.1,210.6" fill="#c6c6c6" stroke="#1c1c1c" stroke-width="1.04" />
<ellipse cx="870.6" cy="207.8" rx="7.5" ry="8.7" fill="#bdbdbd" stroke="#1c1c1c" stroke-width="1.04"/>
<polygon points="992.8,203.0 910.4,244.5 859.3,219.1 891.1,203.1 859.1,187.1 909.8,161.6" fill="#c4c4c4" stroke="#1c1c1c" stroke-width="1.04" />
<polyline points="941.1,219.0 900.3,239.6" fill="none" stroke="#3a3a3a" stroke-width="1.0"/>
<polyline points="940.8,187.0 899.8,166.6" fill="none" stroke="#3a3a3a" stroke-width="1.0"/>
<polyline points="937.6,217.3 896.8,237.8" fill="none" stroke="#3a3a3a" stroke-width="2.2"/>
<polyline points="937.4,188.8 896.3,168.3" fill="none" stroke="#3a3a3a" stroke-width="2.2"/>
<polyline points="931.1,214.0 890.3,234.6" fill="none" stroke="#3a3a3a" stroke-width="1.0"/>
<polyline points="930.9,192.0 889.9,171.6" fill="none" stroke="#3a3a3a" stroke-width="1.0"/>
<polyline points="914.0,205.5 873.3,226.1" fill="none" stroke="#3a3a3a" stroke-width="1.0"/>
<polyline points="914.0,200.5 873.0,180.1" fill="none" stroke="#3a3a3a" stroke-width="1.0"/>
<polyline points="907.5,202.3 866.8,222.8" fill="none" stroke="#3a3a3a" stroke-width="2.2"/>
<polyline points="907.5,203.8 866.5,183.3" fill="none" stroke="#3a3a3a" stroke-width="2.2"/>
<polyline points="904.0,200.6 863.3,221.1" fill="none" stroke="#3a3a3a" stroke-width="1.0"/>
<polyline points="904.1,205.6 863.0,185.1" fill="none" stroke="#3a3a3a" stroke-width="1.0"/>
<polygon points="897.1,202.1 940.8,180.0 945.4,182.6 949.5,185.5 952.9,188.5 955.6,191.7 957.5,195.1 958.7,198.5 959.1,202.0 958.7,205.5 957.6,208.9 955.7,212.3 953.1,215.5 949.7,218.6 945.7,221.4 941.1,224.0" fill="#8f8f8f" stroke="#1c1c1c" stroke-width="1.17" />
<polyline points="926.4,186.8 930.0,188.8 933.0,191.1 935.4,193.6 937.2,196.1 938.3,198.8 938.7,201.5 938.3,204.3 937.3,206.9 935.6,209.5 933.2,212.0 930.2,214.2 926.6,216.3" fill="none" stroke="#3c3c3c" stroke-width="1.6"/>
<polyline points="925.1,187.4 928.5,189.4 931.4,191.6 933.8,193.9 935.4,196.4 936.5,198.9 936.8,201.5 936.5,204.1 935.5,206.7 933.9,209.2 931.6,211.5 928.7,213.7 925.3,215.6" fill="none" stroke="#e8e8e8" stroke-width="0.9"/>
<polygon points="897.1,201.1 923.9,187.5 927.2,189.4 930.0,191.5 932.2,193.7 933.8,196.1 934.8,198.5 935.1,201.0 934.8,203.5 933.9,206.0 932.3,208.3 930.1,210.6 927.4,212.7 924.1,214.5" fill="#7e7e7e" stroke="#1c1c1c" stroke-width="1.17" />
<polygon points="998.8,202.2 917.3,243.2 912.4,243.7 909.3,242.2 910.3,239.7 941.1,224.2 945.7,221.6 949.7,218.8 953.1,215.7 955.7,212.5 957.6,209.1 958.7,205.7 959.1,202.2 958.7,198.7 957.5,195.3 955.6,191.9 952.9,188.7 949.5,185.7 945.4,182.8 940.8,180.2 909.8,164.8 908.8,162.3 911.8,160.8 916.8,161.3" fill="#5e5e5e" stroke="#1c1c1c" stroke-width="1.04" />
<polygon points="998.8,200.0 917.3,241.0 912.4,241.5 909.3,240.0 910.3,237.5 941.1,222.0 945.7,219.4 949.7,216.6 953.1,213.5 955.7,210.3 957.6,206.9 958.7,203.5 959.1,200.0 958.7,196.5 957.5,193.1 955.6,189.7 952.9,186.5 949.5,183.5 945.4,180.6 940.8,178.0 909.8,162.6 908.8,160.1 911.8,158.6 916.8,159.1" fill="#7e7e7e" stroke="#1c1c1c" stroke-width="1.30" />
<polygon points="893.1,201.6 833.5,231.6 826.4,228.1 879.1,201.6 826.1,175.1 833.0,171.6" fill="#c9c9c9" stroke="#1c1c1c" stroke-width="1.04" />
<polygon points="879.5,200.8 828.4,227.1 828.1,172.1 879.5,198.4" fill="#7e7e7e" stroke="#1c1c1c" stroke-width="1.30" />
<polygon points="345.4,470.8 403.0,499.3 403.0,521.3 345.4,492.8" fill="#c8c8c8" stroke="#1c1c1c" stroke-width="1.04" />
<line x1="345.4" y1="482.9" x2="403.0" y2="511.4" stroke="#1c1c1c" stroke-width="1.43"/>
<line x1="345.4" y1="486.2" x2="403.0" y2="514.7" stroke="#1c1c1c" stroke-width="1.43"/>
<polygon points="319.1,457.8 345.4,470.8 345.4,496.8 319.1,483.8" fill="#c6c6c6" stroke="#1c1c1c" stroke-width="1.04" />
<ellipse cx="332.3" cy="479.3" rx="6.8" ry="7.8" fill="#bdbdbd" stroke="#1c1c1c" stroke-width="1.04"/>
<polygon points="295.8,444.4 321.1,456.8 321.1,489.8 295.8,477.4" fill="#c6c6c6" stroke="#1c1c1c" stroke-width="1.04" />
<ellipse cx="308.5" cy="469.1" rx="6.5" ry="7.5" fill="#bdbdbd" stroke="#1c1c1c" stroke-width="1.04"/>
<polygon points="407.0,499.3 463.6,470.8 463.6,492.8 407.0,521.3" fill="#d2d2d2" stroke="#1c1c1c" stroke-width="1.04" />
<line x1="407.0" y1="511.4" x2="463.6" y2="482.9" stroke="#1c1c1c" stroke-width="1.43"/>
<line x1="407.0" y1="514.7" x2="463.6" y2="486.2" stroke="#1c1c1c" stroke-width="1.43"/>
<polygon points="463.6,470.8 489.4,457.8 489.4,483.8 463.6,496.8" fill="#cfcfcf" stroke="#1c1c1c" stroke-width="1.04" />
<ellipse cx="476.5" cy="479.3" rx="6.8" ry="7.8" fill="#c6c6c6" stroke="#1c1c1c" stroke-width="1.04"/>
<polygon points="487.3,456.8 513.1,443.7 513.1,476.7 487.3,489.8" fill="#cfcfcf" stroke="#1c1c1c" stroke-width="1.04" />
<ellipse cx="500.2" cy="468.8" rx="6.8" ry="7.8" fill="#c6c6c6" stroke="#1c1c1c" stroke-width="1.04"/>
<polygon points="404.9,499.3 487.4,457.8 435.9,432.3 404.1,448.3 371.8,432.3 321.1,457.8" fill="#c4c4c4" stroke="#1c1c1c" stroke-width="1.04" />
<polyline points="436.6,473.3 477.3,452.8" fill="none" stroke="#3a3a3a" stroke-width="1.0"/>
<polyline points="372.5,473.3 331.1,452.8" fill="none" stroke="#3a3a3a" stroke-width="1.0"/>
<polyline points="433.0,471.5 473.7,451.0" fill="none" stroke="#3a3a3a" stroke-width="2.2"/>
<polyline points="375.9,471.6 334.5,451.1" fill="none" stroke="#3a3a3a" stroke-width="2.2"/>
<polyline points="426.5,468.3 467.2,447.8" fill="none" stroke="#3a3a3a" stroke-width="1.0"/>
<polyline points="382.4,468.3 341.0,447.8" fill="none" stroke="#3a3a3a" stroke-width="1.0"/>
<polyline points="409.3,459.8 450.0,439.3" fill="none" stroke="#3a3a3a" stroke-width="1.0"/>
<polyline points="399.3,459.8 357.9,439.3" fill="none" stroke="#3a3a3a" stroke-width="1.0"/>
<polyline points="402.8,456.6 443.5,436.0" fill="none" stroke="#3a3a3a" stroke-width="2.2"/>
<polyline points="405.8,456.5 364.4,436.1" fill="none" stroke="#3a3a3a" stroke-width="2.2"/>
<polyline points="399.2,454.8 440.0,434.3" fill="none" stroke="#3a3a3a" stroke-width="1.0"/>
<polyline points="409.2,454.8 367.9,434.3" fill="none" stroke="#3a3a3a" stroke-width="1.0"/>
<polygon points="404.2,450.3 360.4,472.3 365.7,474.6 371.4,476.7 377.6,478.3 384.1,479.7 390.8,480.6 397.7,481.2 404.7,481.4 411.6,481.2 418.5,480.6 425.2,479.7 431.7,478.3 437.7,476.6 443.4,474.6 448.6,472.3" fill="#8f8f8f" stroke="#1c1c1c" stroke-width="1.17" />
<polyline points="374.9,464.6 379.0,466.4 383.6,467.9 388.5,469.1 393.7,470.0 399.0,470.5 404.5,470.7 409.9,470.5 415.3,469.9 420.5,469.1 425.3,467.9 429.9,466.3 433.9,464.5" fill="none" stroke="#3c3c3c" stroke-width="1.6"/>
<polyline points="376.1,463.9 380.1,465.6 384.5,467.1 389.2,468.2 394.1,469.1 399.3,469.6 404.5,469.7 409.7,469.6 414.8,469.1 419.7,468.2 424.4,467.1 428.7,465.6 432.6,463.9" fill="none" stroke="#e8e8e8" stroke-width="0.9"/>
<polygon points="404.2,449.3 377.3,462.8 381.1,464.5 385.3,465.8 389.8,466.9 394.6,467.7 399.5,468.2 404.5,468.4 409.5,468.2 414.4,467.7 419.1,466.9 423.5,465.8 427.7,464.4 431.4,462.8" fill="#7e7e7e" stroke="#1c1c1c" stroke-width="1.17" />
<polygon points="405.0,501.5 486.4,460.5 487.4,458.0 484.4,456.5 479.4,457.0 448.6,472.5 443.4,474.8 437.7,476.8 431.7,478.5 425.2,479.9 418.5,480.8 411.6,481.4 404.7,481.6 397.7,481.4 390.8,480.8 384.1,479.9 377.6,478.5 371.4,476.9 365.7,474.8 360.4,472.5 329.1,457.0 324.1,456.5 321.1,458.0 322.2,460.5" fill="#5e5e5e" stroke="#1c1c1c" stroke-width="1.04" />
<polygon points="405.0,499.3 486.4,458.3 487.4,455.8 484.4,454.3 479.4,454.8 448.6,470.3 443.4,472.6 437.7,474.6 431.7,476.3 425.2,477.7 418.5,478.6 411.6,479.2 404.7,479.4 397.7,479.2 390.8,478.6 384.1,477.7 377.6,476.3 371.4,474.7 365.7,472.6 360.4,470.3 329.1,454.8 324.1,454.3 321.1,455.8 322.2,458.3" fill="#7e7e7e" stroke="#1c1c1c" stroke-width="1.30" />
<polygon points="403.1,448.3 462.8,418.3 455.7,414.8 403.0,441.3 349.6,414.8 342.6,418.3" fill="#c9c9c9" stroke="#1c1c1c" stroke-width="1.04" />
<polygon points="405.4,439.5 457.7,413.8 347.6,413.8 400.6,439.5" fill="#7e7e7e" stroke="#1c1c1c" stroke-width="1.30" />
<polygon points="214.0,199.1 256.2,220.1 256.2,224.9 214.0,203.9" fill="#858585" stroke="#1c1c1c" stroke-width="1.04" />
<polygon points="256.2,220.1 298.2,199.1 298.2,203.9 256.2,224.9" fill="#a0a0a0" stroke="#1c1c1c" stroke-width="1.04" />
<polygon points="214.0,199.1 255.9,178.1 298.2,199.1 256.2,220.1" fill="#8d8d8d" stroke="#1c1c1c" stroke-width="1.04" />
<polygon points="208.0,196.9 256.3,220.9 256.3,223.1 208.0,199.1" fill="#8e8e8e" stroke="#1c1c1c" stroke-width="1.30" />
<polygon points="256.3,220.9 304.2,196.9 304.2,199.1 256.3,223.1" fill="#a2a2a2" stroke="#1c1c1c" stroke-width="1.30" />
<polygon points="208.0,196.9 255.9,172.9 304.2,196.9 256.3,220.9" fill="#bcbcbc" stroke="#1c1c1c" stroke-width="1.30" />
<ellipse cx="217.6" cy="196.9" rx="1.5" ry="0.9" fill="#5e5e5e" stroke="#1c1c1c" stroke-width="0.65"/>
<ellipse cx="222.9" cy="193.3" rx="1.5" ry="0.9" fill="#5e5e5e" stroke="#1c1c1c" stroke-width="0.65"/>
<ellipse cx="222.9" cy="200.5" rx="1.5" ry="0.9" fill="#5e5e5e" stroke="#1c1c1c" stroke-width="0.65"/>
<ellipse cx="256.0" cy="177.7" rx="1.5" ry="0.9" fill="#5e5e5e" stroke="#1c1c1c" stroke-width="0.65"/>
<ellipse cx="248.8" cy="180.3" rx="1.5" ry="0.9" fill="#5e5e5e" stroke="#1c1c1c" stroke-width="0.65"/>
<ellipse cx="263.2" cy="180.3" rx="1.5" ry="0.9" fill="#5e5e5e" stroke="#1c1c1c" stroke-width="0.65"/>
<ellipse cx="256.2" cy="216.1" rx="1.5" ry="0.9" fill="#5e5e5e" stroke="#1c1c1c" stroke-width="0.65"/>
<ellipse cx="263.4" cy="213.4" rx="1.5" ry="0.9" fill="#5e5e5e" stroke="#1c1c1c" stroke-width="0.65"/>
<ellipse cx="249.0" cy="213.5" rx="1.5" ry="0.9" fill="#5e5e5e" stroke="#1c1c1c" stroke-width="0.65"/>
<ellipse cx="294.6" cy="196.9" rx="1.5" ry="0.9" fill="#5e5e5e" stroke="#1c1c1c" stroke-width="0.65"/>
<ellipse cx="289.3" cy="200.5" rx="1.5" ry="0.9" fill="#5e5e5e" stroke="#1c1c1c" stroke-width="0.65"/>
<ellipse cx="289.3" cy="193.3" rx="1.5" ry="0.9" fill="#5e5e5e" stroke="#1c1c1c" stroke-width="0.65"/>
<polygon points="535.0,193.2 577.1,214.2 577.1,219.0 535.0,198.0" fill="#858585" stroke="#1c1c1c" stroke-width="1.04" />
<polygon points="577.1,214.2 619.0,193.2 619.0,198.0 577.1,219.0" fill="#a0a0a0" stroke="#1c1c1c" stroke-width="1.04" />
<polygon points="535.0,193.2 576.8,172.2 619.0,193.2 577.1,214.2" fill="#8d8d8d" stroke="#1c1c1c" stroke-width="1.04" />
<polygon points="529.0,191.0 577.1,215.0 577.1,217.2 529.0,193.2" fill="#8e8e8e" stroke="#1c1c1c" stroke-width="1.30" />
<polygon points="577.1,215.0 625.0,191.0 625.0,193.2 577.1,217.2" fill="#a2a2a2" stroke="#1c1c1c" stroke-width="1.30" />
<polygon points="529.0,191.0 576.8,167.0 625.0,191.0 577.1,215.0" fill="#bcbcbc" stroke="#1c1c1c" stroke-width="1.30" />
<ellipse cx="538.6" cy="191.0" rx="1.5" ry="0.9" fill="#5e5e5e" stroke="#1c1c1c" stroke-width="0.65"/>
<ellipse cx="543.8" cy="187.4" rx="1.5" ry="0.9" fill="#5e5e5e" stroke="#1c1c1c" stroke-width="0.65"/>
<ellipse cx="543.9" cy="194.6" rx="1.5" ry="0.9" fill="#5e5e5e" stroke="#1c1c1c" stroke-width="0.65"/>
<ellipse cx="576.8" cy="171.8" rx="1.5" ry="0.9" fill="#5e5e5e" stroke="#1c1c1c" stroke-width="0.65"/>
<ellipse cx="569.7" cy="174.4" rx="1.5" ry="0.9" fill="#5e5e5e" stroke="#1c1c1c" stroke-width="0.65"/>
<ellipse cx="584.1" cy="174.4" rx="1.5" ry="0.9" fill="#5e5e5e" stroke="#1c1c1c" stroke-width="0.65"/>
<ellipse cx="577.1" cy="210.2" rx="1.5" ry="0.9" fill="#5e5e5e" stroke="#1c1c1c" stroke-width="0.65"/>
<ellipse cx="584.3" cy="207.5" rx="1.5" ry="0.9" fill="#5e5e5e" stroke="#1c1c1c" stroke-width="0.65"/>
<ellipse cx="569.9" cy="207.5" rx="1.5" ry="0.9" fill="#5e5e5e" stroke="#1c1c1c" stroke-width="0.65"/>
<ellipse cx="615.4" cy="191.0" rx="1.5" ry="0.9" fill="#5e5e5e" stroke="#1c1c1c" stroke-width="0.65"/>
<ellipse cx="610.1" cy="194.6" rx="1.5" ry="0.9" fill="#5e5e5e" stroke="#1c1c1c" stroke-width="0.65"/>
<ellipse cx="610.1" cy="187.4" rx="1.5" ry="0.9" fill="#5e5e5e" stroke="#1c1c1c" stroke-width="0.65"/>
<polygon points="722.2,287.3 764.3,308.3 764.3,313.1 722.2,292.1" fill="#858585" stroke="#1c1c1c" stroke-width="1.04" />
<polygon points="764.3,308.3 806.1,287.3 806.1,292.1 764.3,313.1" fill="#a0a0a0" stroke="#1c1c1c" stroke-width="1.04" />
<polygon points="722.2,287.3 763.9,266.3 806.1,287.3 764.3,308.3" fill="#8d8d8d" stroke="#1c1c1c" stroke-width="1.04" />
<polygon points="716.2,285.1 764.4,309.1 764.4,311.3 716.2,287.3" fill="#8e8e8e" stroke="#1c1c1c" stroke-width="1.30" />
<polygon points="764.4,309.1 812.0,285.1 812.0,287.3 764.4,311.3" fill="#a2a2a2" stroke="#1c1c1c" stroke-width="1.30" />
<polygon points="716.2,285.1 763.9,261.1 812.0,285.1 764.4,309.1" fill="#bcbcbc" stroke="#1c1c1c" stroke-width="1.30" />
<ellipse cx="725.8" cy="285.1" rx="1.5" ry="0.9" fill="#5e5e5e" stroke="#1c1c1c" stroke-width="0.65"/>
<ellipse cx="731.0" cy="281.5" rx="1.5" ry="0.9" fill="#5e5e5e" stroke="#1c1c1c" stroke-width="0.65"/>
<ellipse cx="731.1" cy="288.7" rx="1.5" ry="0.9" fill="#5e5e5e" stroke="#1c1c1c" stroke-width="0.65"/>
<ellipse cx="763.9" cy="265.9" rx="1.5" ry="0.9" fill="#5e5e5e" stroke="#1c1c1c" stroke-width="0.65"/>
<ellipse cx="756.8" cy="268.6" rx="1.5" ry="0.9" fill="#5e5e5e" stroke="#1c1c1c" stroke-width="0.65"/>
<ellipse cx="771.2" cy="268.6" rx="1.5" ry="0.9" fill="#5e5e5e" stroke="#1c1c1c" stroke-width="0.65"/>
<ellipse cx="764.3" cy="304.3" rx="1.5" ry="0.9" fill="#5e5e5e" stroke="#1c1c1c" stroke-width="0.65"/>
<ellipse cx="771.5" cy="301.7" rx="1.5" ry="0.9" fill="#5e5e5e" stroke="#1c1c1c" stroke-width="0.65"/>
<ellipse cx="757.1" cy="301.7" rx="1.5" ry="0.9" fill="#5e5e5e" stroke="#1c1c1c" stroke-width="0.65"/>
<ellipse cx="802.5" cy="285.1" rx="1.5" ry="0.9" fill="#5e5e5e" stroke="#1c1c1c" stroke-width="0.65"/>
<ellipse cx="797.2" cy="288.7" rx="1.5" ry="0.9" fill="#5e5e5e" stroke="#1c1c1c" stroke-width="0.65"/>
<ellipse cx="797.2" cy="281.5" rx="1.5" ry="0.9" fill="#5e5e5e" stroke="#1c1c1c" stroke-width="0.65"/>
<polygon points="573.6,361.7 615.9,382.6 615.9,387.4 573.6,366.5" fill="#858585" stroke="#1c1c1c" stroke-width="1.04" />
<polygon points="615.9,382.6 657.6,361.6 657.6,366.4 615.9,387.4" fill="#a0a0a0" stroke="#1c1c1c" stroke-width="1.04" />
<polygon points="573.6,361.7 615.4,340.6 657.6,361.6 615.9,382.6" fill="#8d8d8d" stroke="#1c1c1c" stroke-width="1.04" />
<polygon points="567.6,359.5 615.9,383.4 615.9,385.6 567.6,361.7" fill="#8e8e8e" stroke="#1c1c1c" stroke-width="1.30" />
<polygon points="615.9,383.4 663.6,359.4 663.6,361.6 615.9,385.6" fill="#a2a2a2" stroke="#1c1c1c" stroke-width="1.30" />
<polygon points="567.6,359.5 615.3,335.4 663.6,359.4 615.9,383.4" fill="#bcbcbc" stroke="#1c1c1c" stroke-width="1.30" />
<ellipse cx="577.2" cy="359.5" rx="1.5" ry="0.9" fill="#5e5e5e" stroke="#1c1c1c" stroke-width="0.65"/>
<ellipse cx="582.5" cy="355.9" rx="1.5" ry="0.9" fill="#5e5e5e" stroke="#1c1c1c" stroke-width="0.65"/>
<ellipse cx="582.5" cy="363.1" rx="1.5" ry="0.9" fill="#5e5e5e" stroke="#1c1c1c" stroke-width="0.65"/>
<ellipse cx="615.4" cy="340.2" rx="1.5" ry="0.9" fill="#5e5e5e" stroke="#1c1c1c" stroke-width="0.65"/>
<ellipse cx="608.2" cy="342.9" rx="1.5" ry="0.9" fill="#5e5e5e" stroke="#1c1c1c" stroke-width="0.65"/>
<ellipse cx="622.6" cy="342.9" rx="1.5" ry="0.9" fill="#5e5e5e" stroke="#1c1c1c" stroke-width="0.65"/>
<ellipse cx="615.9" cy="378.6" rx="1.5" ry="0.9" fill="#5e5e5e" stroke="#1c1c1c" stroke-width="0.65"/>
<ellipse cx="623.0" cy="376.0" rx="1.5" ry="0.9" fill="#5e5e5e" stroke="#1c1c1c" stroke-width="0.65"/>
<ellipse cx="608.6" cy="376.0" rx="1.5" ry="0.9" fill="#5e5e5e" stroke="#1c1c1c" stroke-width="0.65"/>
<ellipse cx="654.0" cy="359.4" rx="1.5" ry="0.9" fill="#5e5e5e" stroke="#1c1c1c" stroke-width="0.65"/>
<ellipse cx="648.8" cy="363.0" rx="1.5" ry="0.9" fill="#5e5e5e" stroke="#1c1c1c" stroke-width="0.65"/>
<ellipse cx="648.7" cy="355.8" rx="1.5" ry="0.9" fill="#5e5e5e" stroke="#1c1c1c" stroke-width="0.65"/>
<polygon points="162.5,369.1 204.9,390.1 204.9,394.9 162.5,373.9" fill="#858585" stroke="#1c1c1c" stroke-width="1.04" />
<polygon points="204.9,390.1 246.8,369.1 246.8,373.9 204.9,394.9" fill="#a0a0a0" stroke="#1c1c1c" stroke-width="1.04" />
<polygon points="162.5,369.1 204.4,348.1 246.8,369.1 204.9,390.1" fill="#8d8d8d" stroke="#1c1c1c" stroke-width="1.04" />
<polygon points="156.5,366.9 205.0,390.9 205.0,393.1 156.5,369.1" fill="#8e8e8e" stroke="#1c1c1c" stroke-width="1.30" />
<polygon points="205.0,390.9 252.8,366.9 252.8,369.1 205.0,393.1" fill="#a2a2a2" stroke="#1c1c1c" stroke-width="1.30" />
<polygon points="156.5,366.9 204.3,342.9 252.8,366.9 205.0,390.9" fill="#bcbcbc" stroke="#1c1c1c" stroke-width="1.30" />
<ellipse cx="166.1" cy="366.9" rx="1.5" ry="0.9" fill="#5e5e5e" stroke="#1c1c1c" stroke-width="0.65"/>
<ellipse cx="171.4" cy="363.3" rx="1.5" ry="0.9" fill="#5e5e5e" stroke="#1c1c1c" stroke-width="0.65"/>
<ellipse cx="171.5" cy="370.5" rx="1.5" ry="0.9" fill="#5e5e5e" stroke="#1c1c1c" stroke-width="0.65"/>
<ellipse cx="204.4" cy="347.7" rx="1.5" ry="0.9" fill="#5e5e5e" stroke="#1c1c1c" stroke-width="0.65"/>
<ellipse cx="197.2" cy="350.3" rx="1.5" ry="0.9" fill="#5e5e5e" stroke="#1c1c1c" stroke-width="0.65"/>
<ellipse cx="211.6" cy="350.3" rx="1.5" ry="0.9" fill="#5e5e5e" stroke="#1c1c1c" stroke-width="0.65"/>
<ellipse cx="204.9" cy="386.1" rx="1.5" ry="0.9" fill="#5e5e5e" stroke="#1c1c1c" stroke-width="0.65"/>
<ellipse cx="212.1" cy="383.5" rx="1.5" ry="0.9" fill="#5e5e5e" stroke="#1c1c1c" stroke-width="0.65"/>
<ellipse cx="197.6" cy="383.5" rx="1.5" ry="0.9" fill="#5e5e5e" stroke="#1c1c1c" stroke-width="0.65"/>
<ellipse cx="243.1" cy="366.9" rx="1.5" ry="0.9" fill="#5e5e5e" stroke="#1c1c1c" stroke-width="0.65"/>
<ellipse cx="237.9" cy="370.5" rx="1.5" ry="0.9" fill="#5e5e5e" stroke="#1c1c1c" stroke-width="0.65"/>
<ellipse cx="237.8" cy="363.3" rx="1.5" ry="0.9" fill="#5e5e5e" stroke="#1c1c1c" stroke-width="0.65"/>
<polygon points="888.0,184.5 956.0,187.0 952.0,222.0 886.0,218.0" fill="#8a8a8a" stroke="#1c1c1c" stroke-width="1.17" />
<polygon points="886.7,181.3 955.0,184.0 951.0,218.0 884.0,213.5" fill="#bcbcbc" stroke="#1c1c1c" stroke-width="1.30" />
<ellipse cx="891.0" cy="186.0" rx="1.5" ry="0.9" fill="#5e5e5e" stroke="#1c1c1c" stroke-width="0.65"/>
<ellipse cx="898.0" cy="184.5" rx="1.5" ry="0.9" fill="#5e5e5e" stroke="#1c1c1c" stroke-width="0.65"/>
<ellipse cx="890.0" cy="192.0" rx="1.5" ry="0.9" fill="#5e5e5e" stroke="#1c1c1c" stroke-width="0.65"/>
<ellipse cx="950.0" cy="188.0" rx="1.5" ry="0.9" fill="#5e5e5e" stroke="#1c1c1c" stroke-width="0.65"/>
<ellipse cx="943.0" cy="186.5" rx="1.5" ry="0.9" fill="#5e5e5e" stroke="#1c1c1c" stroke-width="0.65"/>
<ellipse cx="950.0" cy="194.0" rx="1.5" ry="0.9" fill="#5e5e5e" stroke="#1c1c1c" stroke-width="0.65"/>
<ellipse cx="888.0" cy="209.0" rx="1.5" ry="0.9" fill="#5e5e5e" stroke="#1c1c1c" stroke-width="0.65"/>
<ellipse cx="895.0" cy="211.5" rx="1.5" ry="0.9" fill="#5e5e5e" stroke="#1c1c1c" stroke-width="0.65"/>
<ellipse cx="888.0" cy="203.5" rx="1.5" ry="0.9" fill="#5e5e5e" stroke="#1c1c1c" stroke-width="0.65"/>
<ellipse cx="947.0" cy="214.0" rx="1.5" ry="0.9" fill="#5e5e5e" stroke="#1c1c1c" stroke-width="0.65"/>
<ellipse cx="940.0" cy="214.5" rx="1.5" ry="0.9" fill="#5e5e5e" stroke="#1c1c1c" stroke-width="0.65"/>
<ellipse cx="948.0" cy="208.0" rx="1.5" ry="0.9" fill="#5e5e5e" stroke="#1c1c1c" stroke-width="0.65"/>
</svg>
</body></html>
